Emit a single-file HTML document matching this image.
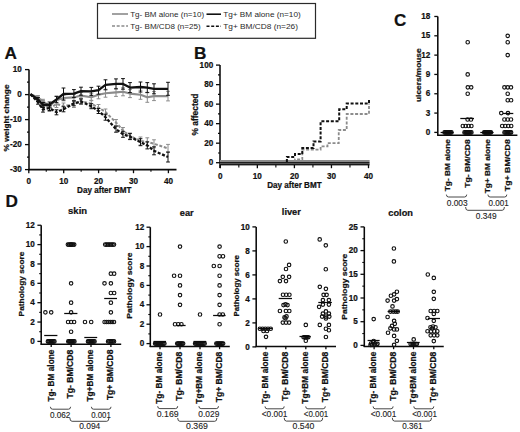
<!DOCTYPE html>
<html><head><meta charset="utf-8"><style>
html,body{margin:0;padding:0;background:#fff;}
svg{display:block;font-family:"Liberation Sans", sans-serif;}
</style></head><body>
<svg width="520" height="432" viewBox="0 0 520 432">
<rect width="520" height="432" fill="#fff"/>
<rect x="97.5" y="3.5" width="218" height="34.8" fill="none" stroke="#2a2a2a" stroke-width="1.2"/>
<line x1="112" y1="14.0" x2="128" y2="14.0" stroke="#8a8a8a" stroke-width="1.6"/>
<path d="M112 26 H128" stroke="#8a8a8a" stroke-width="1.4" fill="none" stroke-dasharray="3 1.7"/>
<line x1="206.5" y1="14.2" x2="221" y2="14.2" stroke="#111" stroke-width="1.6"/>
<path d="M206.5 26.3 H221" stroke="#111" stroke-width="1.5" fill="none" stroke-dasharray="3 1.7"/>
<text x="130.2" y="16.8" font-size="8.1" font-weight="normal" text-anchor="start" fill="#2a2a2a" textLength="74" lengthAdjust="spacingAndGlyphs">Tg- BM alone (n=10)</text>
<text x="130.2" y="28.9" font-size="8.1" font-weight="normal" text-anchor="start" fill="#2a2a2a" textLength="70.5" lengthAdjust="spacingAndGlyphs">Tg- BM/CD8 (n=25)</text>
<text x="223.2" y="16.8" font-size="8.1" font-weight="normal" text-anchor="start" fill="#2a2a2a" textLength="77.5" lengthAdjust="spacingAndGlyphs">Tg+ BM alone (n=10)</text>
<text x="223.2" y="28.9" font-size="8.1" font-weight="normal" text-anchor="start" fill="#2a2a2a" textLength="74.8" lengthAdjust="spacingAndGlyphs">Tg+ BM/CD8 (n=26)</text>
<text x="4.6" y="58.5" font-size="17.2" font-weight="bold" text-anchor="start" fill="#111" stroke="#111" stroke-width="0.22">A</text>
<text x="194.0" y="58.8" font-size="17.2" font-weight="bold" text-anchor="start" fill="#111" stroke="#111" stroke-width="0.22">B</text>
<text x="394.0" y="26.1" font-size="17.0" font-weight="bold" text-anchor="start" fill="#111" stroke="#111" stroke-width="0.22">C</text>
<text x="5.6" y="207.2" font-size="17.2" font-weight="bold" text-anchor="start" fill="#111" stroke="#111" stroke-width="0.22">D</text>
<line x1="29" y1="69.6" x2="29" y2="170.2" stroke="#0a0a0a" stroke-width="1.55"/>
<line x1="25" y1="69.6" x2="29" y2="69.6" stroke="#0a0a0a" stroke-width="1.3"/>
<text transform="translate(21.8,72.19999999999999) scale(0.97,1)" x="0" y="0" font-size="8.4" font-weight="bold" text-anchor="end" fill="#111" stroke="#111" stroke-width="0.22">10</text>
<line x1="25" y1="94.6" x2="29" y2="94.6" stroke="#0a0a0a" stroke-width="1.3"/>
<text transform="translate(21.8,97.19999999999999) scale(0.97,1)" x="0" y="0" font-size="8.4" font-weight="bold" text-anchor="end" fill="#111" stroke="#111" stroke-width="0.22">0</text>
<line x1="25" y1="119.6" x2="29" y2="119.6" stroke="#0a0a0a" stroke-width="1.3"/>
<text transform="translate(21.8,122.19999999999999) scale(0.97,1)" x="0" y="0" font-size="8.4" font-weight="bold" text-anchor="end" fill="#111" stroke="#111" stroke-width="0.22">-10</text>
<line x1="25" y1="144.6" x2="29" y2="144.6" stroke="#0a0a0a" stroke-width="1.3"/>
<text transform="translate(21.8,147.2) scale(0.97,1)" x="0" y="0" font-size="8.4" font-weight="bold" text-anchor="end" fill="#111" stroke="#111" stroke-width="0.22">-20</text>
<line x1="25" y1="169.6" x2="29" y2="169.6" stroke="#0a0a0a" stroke-width="1.3"/>
<text transform="translate(21.8,172.2) scale(0.97,1)" x="0" y="0" font-size="8.4" font-weight="bold" text-anchor="end" fill="#111" stroke="#111" stroke-width="0.22">-30</text>
<line x1="27" y1="82.1" x2="29" y2="82.1" stroke="#0a0a0a" stroke-width="1.1"/>
<line x1="27" y1="107.1" x2="29" y2="107.1" stroke="#0a0a0a" stroke-width="1.1"/>
<line x1="27" y1="132.1" x2="29" y2="132.1" stroke="#0a0a0a" stroke-width="1.1"/>
<line x1="27" y1="157.1" x2="29" y2="157.1" stroke="#0a0a0a" stroke-width="1.1"/>
<line x1="28.4" y1="169.6" x2="176.5" y2="169.6" stroke="#0a0a0a" stroke-width="1.55"/>
<line x1="28.8" y1="169.6" x2="28.8" y2="173.2" stroke="#0a0a0a" stroke-width="1.3"/>
<text transform="translate(28.8,183.8) scale(0.97,1)" x="0" y="0" font-size="8.4" font-weight="bold" text-anchor="middle" fill="#111" stroke="#111" stroke-width="0.22">0</text>
<line x1="63.7" y1="169.6" x2="63.7" y2="173.2" stroke="#0a0a0a" stroke-width="1.3"/>
<text transform="translate(63.7,183.8) scale(0.97,1)" x="0" y="0" font-size="8.4" font-weight="bold" text-anchor="middle" fill="#111" stroke="#111" stroke-width="0.22">10</text>
<line x1="98.60000000000001" y1="169.6" x2="98.60000000000001" y2="173.2" stroke="#0a0a0a" stroke-width="1.3"/>
<text transform="translate(98.60000000000001,183.8) scale(0.97,1)" x="0" y="0" font-size="8.4" font-weight="bold" text-anchor="middle" fill="#111" stroke="#111" stroke-width="0.22">20</text>
<line x1="133.5" y1="169.6" x2="133.5" y2="173.2" stroke="#0a0a0a" stroke-width="1.3"/>
<text transform="translate(133.5,183.8) scale(0.97,1)" x="0" y="0" font-size="8.4" font-weight="bold" text-anchor="middle" fill="#111" stroke="#111" stroke-width="0.22">30</text>
<line x1="168.40000000000003" y1="169.6" x2="168.40000000000003" y2="173.2" stroke="#0a0a0a" stroke-width="1.3"/>
<text transform="translate(168.40000000000003,183.8) scale(0.97,1)" x="0" y="0" font-size="8.4" font-weight="bold" text-anchor="middle" fill="#111" stroke="#111" stroke-width="0.22">40</text>
<line x1="46.25" y1="169.6" x2="46.25" y2="171.8" stroke="#0a0a0a" stroke-width="1.1"/>
<line x1="81.15" y1="169.6" x2="81.15" y2="171.8" stroke="#0a0a0a" stroke-width="1.1"/>
<line x1="116.05" y1="169.6" x2="116.05" y2="171.8" stroke="#0a0a0a" stroke-width="1.1"/>
<line x1="150.95000000000002" y1="169.6" x2="150.95000000000002" y2="171.8" stroke="#0a0a0a" stroke-width="1.1"/>
<text x="104.3" y="193.2" font-size="8.4" font-weight="bold" text-anchor="middle" fill="#111" textLength="54.5" lengthAdjust="spacingAndGlyphs" stroke="#111" stroke-width="0.22">Day after BMT</text>
<text transform="translate(8.9,118.0) rotate(-90)" x="0" y="0" font-size="8.0" font-weight="bold" text-anchor="middle" fill="#111" textLength="67.0" lengthAdjust="spacingAndGlyphs" stroke="#111" stroke-width="0.22">% weight change</text>
<line x1="38" y1="95.5" x2="38" y2="99.5" stroke="#8c8c8c" stroke-width="1.0"/>
<line x1="36.1" y1="95.5" x2="39.9" y2="95.5" stroke="#8c8c8c" stroke-width="1.0"/>
<line x1="36.1" y1="99.5" x2="39.9" y2="99.5" stroke="#8c8c8c" stroke-width="1.0"/>
<line x1="43" y1="99.3" x2="43" y2="103.3" stroke="#8c8c8c" stroke-width="1.0"/>
<line x1="41.1" y1="99.3" x2="44.9" y2="99.3" stroke="#8c8c8c" stroke-width="1.0"/>
<line x1="41.1" y1="103.3" x2="44.9" y2="103.3" stroke="#8c8c8c" stroke-width="1.0"/>
<line x1="49.5" y1="104" x2="49.5" y2="108" stroke="#8c8c8c" stroke-width="1.0"/>
<line x1="47.6" y1="104" x2="51.4" y2="104" stroke="#8c8c8c" stroke-width="1.0"/>
<line x1="47.6" y1="108" x2="51.4" y2="108" stroke="#8c8c8c" stroke-width="1.0"/>
<line x1="56.5" y1="96.1" x2="56.5" y2="103.9" stroke="#8c8c8c" stroke-width="1.0"/>
<line x1="54.6" y1="96.1" x2="58.4" y2="96.1" stroke="#8c8c8c" stroke-width="1.0"/>
<line x1="54.6" y1="103.9" x2="58.4" y2="103.9" stroke="#8c8c8c" stroke-width="1.0"/>
<line x1="63.5" y1="95.2" x2="63.5" y2="100.8" stroke="#8c8c8c" stroke-width="1.0"/>
<line x1="61.6" y1="95.2" x2="65.4" y2="95.2" stroke="#8c8c8c" stroke-width="1.0"/>
<line x1="61.6" y1="100.8" x2="65.4" y2="100.8" stroke="#8c8c8c" stroke-width="1.0"/>
<line x1="73.9" y1="94.4" x2="73.9" y2="100.4" stroke="#8c8c8c" stroke-width="1.0"/>
<line x1="72.0" y1="94.4" x2="75.80000000000001" y2="94.4" stroke="#8c8c8c" stroke-width="1.0"/>
<line x1="72.0" y1="100.4" x2="75.80000000000001" y2="100.4" stroke="#8c8c8c" stroke-width="1.0"/>
<line x1="81" y1="92.6" x2="81" y2="98.6" stroke="#8c8c8c" stroke-width="1.0"/>
<line x1="79.1" y1="92.6" x2="82.9" y2="92.6" stroke="#8c8c8c" stroke-width="1.0"/>
<line x1="79.1" y1="98.6" x2="82.9" y2="98.6" stroke="#8c8c8c" stroke-width="1.0"/>
<line x1="91.3" y1="93.7" x2="91.3" y2="100.7" stroke="#8c8c8c" stroke-width="1.0"/>
<line x1="89.39999999999999" y1="93.7" x2="93.2" y2="93.7" stroke="#8c8c8c" stroke-width="1.0"/>
<line x1="89.39999999999999" y1="100.7" x2="93.2" y2="100.7" stroke="#8c8c8c" stroke-width="1.0"/>
<line x1="98.5" y1="90.8" x2="98.5" y2="98.8" stroke="#8c8c8c" stroke-width="1.0"/>
<line x1="96.6" y1="90.8" x2="100.4" y2="90.8" stroke="#8c8c8c" stroke-width="1.0"/>
<line x1="96.6" y1="98.8" x2="100.4" y2="98.8" stroke="#8c8c8c" stroke-width="1.0"/>
<line x1="105.5" y1="89.2" x2="105.5" y2="97.2" stroke="#8c8c8c" stroke-width="1.0"/>
<line x1="103.6" y1="89.2" x2="107.4" y2="89.2" stroke="#8c8c8c" stroke-width="1.0"/>
<line x1="103.6" y1="97.2" x2="107.4" y2="97.2" stroke="#8c8c8c" stroke-width="1.0"/>
<line x1="116" y1="88.4" x2="116" y2="96.4" stroke="#8c8c8c" stroke-width="1.0"/>
<line x1="114.1" y1="88.4" x2="117.9" y2="88.4" stroke="#8c8c8c" stroke-width="1.0"/>
<line x1="114.1" y1="96.4" x2="117.9" y2="96.4" stroke="#8c8c8c" stroke-width="1.0"/>
<line x1="123" y1="87.8" x2="123" y2="95.8" stroke="#8c8c8c" stroke-width="1.0"/>
<line x1="121.1" y1="87.8" x2="124.9" y2="87.8" stroke="#8c8c8c" stroke-width="1.0"/>
<line x1="121.1" y1="95.8" x2="124.9" y2="95.8" stroke="#8c8c8c" stroke-width="1.0"/>
<line x1="130" y1="89.6" x2="130" y2="97.6" stroke="#8c8c8c" stroke-width="1.0"/>
<line x1="128.1" y1="89.6" x2="131.9" y2="89.6" stroke="#8c8c8c" stroke-width="1.0"/>
<line x1="128.1" y1="97.6" x2="131.9" y2="97.6" stroke="#8c8c8c" stroke-width="1.0"/>
<line x1="140.5" y1="90.3" x2="140.5" y2="99.3" stroke="#8c8c8c" stroke-width="1.0"/>
<line x1="138.6" y1="90.3" x2="142.4" y2="90.3" stroke="#8c8c8c" stroke-width="1.0"/>
<line x1="138.6" y1="99.3" x2="142.4" y2="99.3" stroke="#8c8c8c" stroke-width="1.0"/>
<line x1="147.3" y1="92.3" x2="147.3" y2="102.3" stroke="#8c8c8c" stroke-width="1.0"/>
<line x1="145.4" y1="92.3" x2="149.20000000000002" y2="92.3" stroke="#8c8c8c" stroke-width="1.0"/>
<line x1="145.4" y1="102.3" x2="149.20000000000002" y2="102.3" stroke="#8c8c8c" stroke-width="1.0"/>
<line x1="154" y1="91.6" x2="154" y2="100.6" stroke="#8c8c8c" stroke-width="1.0"/>
<line x1="152.1" y1="91.6" x2="155.9" y2="91.6" stroke="#8c8c8c" stroke-width="1.0"/>
<line x1="152.1" y1="100.6" x2="155.9" y2="100.6" stroke="#8c8c8c" stroke-width="1.0"/>
<line x1="168" y1="91.3" x2="168" y2="100.89999999999999" stroke="#8c8c8c" stroke-width="1.0"/>
<line x1="166.1" y1="91.3" x2="169.9" y2="91.3" stroke="#8c8c8c" stroke-width="1.0"/>
<line x1="166.1" y1="100.89999999999999" x2="169.9" y2="100.89999999999999" stroke="#8c8c8c" stroke-width="1.0"/>
<line x1="38" y1="97" x2="38" y2="101" stroke="#8c8c8c" stroke-width="1.0"/>
<line x1="36.1" y1="97" x2="39.9" y2="97" stroke="#8c8c8c" stroke-width="1.0"/>
<line x1="36.1" y1="101" x2="39.9" y2="101" stroke="#8c8c8c" stroke-width="1.0"/>
<line x1="43" y1="100.5" x2="43" y2="105.5" stroke="#8c8c8c" stroke-width="1.0"/>
<line x1="41.1" y1="100.5" x2="44.9" y2="100.5" stroke="#8c8c8c" stroke-width="1.0"/>
<line x1="41.1" y1="105.5" x2="44.9" y2="105.5" stroke="#8c8c8c" stroke-width="1.0"/>
<line x1="49.5" y1="105.5" x2="49.5" y2="111.5" stroke="#8c8c8c" stroke-width="1.0"/>
<line x1="47.6" y1="105.5" x2="51.4" y2="105.5" stroke="#8c8c8c" stroke-width="1.0"/>
<line x1="47.6" y1="111.5" x2="51.4" y2="111.5" stroke="#8c8c8c" stroke-width="1.0"/>
<line x1="56.5" y1="100.5" x2="56.5" y2="107.5" stroke="#8c8c8c" stroke-width="1.0"/>
<line x1="54.6" y1="100.5" x2="58.4" y2="100.5" stroke="#8c8c8c" stroke-width="1.0"/>
<line x1="54.6" y1="107.5" x2="58.4" y2="107.5" stroke="#8c8c8c" stroke-width="1.0"/>
<line x1="63.5" y1="103" x2="63.5" y2="109" stroke="#8c8c8c" stroke-width="1.0"/>
<line x1="61.6" y1="103" x2="65.4" y2="103" stroke="#8c8c8c" stroke-width="1.0"/>
<line x1="61.6" y1="109" x2="65.4" y2="109" stroke="#8c8c8c" stroke-width="1.0"/>
<line x1="73.9" y1="101.5" x2="73.9" y2="107.5" stroke="#8c8c8c" stroke-width="1.0"/>
<line x1="72.0" y1="101.5" x2="75.80000000000001" y2="101.5" stroke="#8c8c8c" stroke-width="1.0"/>
<line x1="72.0" y1="107.5" x2="75.80000000000001" y2="107.5" stroke="#8c8c8c" stroke-width="1.0"/>
<line x1="81" y1="98" x2="81" y2="104" stroke="#8c8c8c" stroke-width="1.0"/>
<line x1="79.1" y1="98" x2="82.9" y2="98" stroke="#8c8c8c" stroke-width="1.0"/>
<line x1="79.1" y1="104" x2="82.9" y2="104" stroke="#8c8c8c" stroke-width="1.0"/>
<line x1="91.3" y1="100.3" x2="91.3" y2="107.3" stroke="#8c8c8c" stroke-width="1.0"/>
<line x1="89.39999999999999" y1="100.3" x2="93.2" y2="100.3" stroke="#8c8c8c" stroke-width="1.0"/>
<line x1="89.39999999999999" y1="107.3" x2="93.2" y2="107.3" stroke="#8c8c8c" stroke-width="1.0"/>
<line x1="98.5" y1="104.5" x2="98.5" y2="110.5" stroke="#8c8c8c" stroke-width="1.0"/>
<line x1="96.6" y1="104.5" x2="100.4" y2="104.5" stroke="#8c8c8c" stroke-width="1.0"/>
<line x1="96.6" y1="110.5" x2="100.4" y2="110.5" stroke="#8c8c8c" stroke-width="1.0"/>
<line x1="105.5" y1="109" x2="105.5" y2="115" stroke="#8c8c8c" stroke-width="1.0"/>
<line x1="103.6" y1="109" x2="107.4" y2="109" stroke="#8c8c8c" stroke-width="1.0"/>
<line x1="103.6" y1="115" x2="107.4" y2="115" stroke="#8c8c8c" stroke-width="1.0"/>
<line x1="116" y1="119.5" x2="116" y2="125.5" stroke="#8c8c8c" stroke-width="1.0"/>
<line x1="114.1" y1="119.5" x2="117.9" y2="119.5" stroke="#8c8c8c" stroke-width="1.0"/>
<line x1="114.1" y1="125.5" x2="117.9" y2="125.5" stroke="#8c8c8c" stroke-width="1.0"/>
<line x1="123" y1="127.5" x2="123" y2="133.5" stroke="#8c8c8c" stroke-width="1.0"/>
<line x1="121.1" y1="127.5" x2="124.9" y2="127.5" stroke="#8c8c8c" stroke-width="1.0"/>
<line x1="121.1" y1="133.5" x2="124.9" y2="133.5" stroke="#8c8c8c" stroke-width="1.0"/>
<line x1="130" y1="133" x2="130" y2="139" stroke="#8c8c8c" stroke-width="1.0"/>
<line x1="128.1" y1="133" x2="131.9" y2="133" stroke="#8c8c8c" stroke-width="1.0"/>
<line x1="128.1" y1="139" x2="131.9" y2="139" stroke="#8c8c8c" stroke-width="1.0"/>
<line x1="140.5" y1="137" x2="140.5" y2="145" stroke="#8c8c8c" stroke-width="1.0"/>
<line x1="138.6" y1="137" x2="142.4" y2="137" stroke="#8c8c8c" stroke-width="1.0"/>
<line x1="138.6" y1="145" x2="142.4" y2="145" stroke="#8c8c8c" stroke-width="1.0"/>
<line x1="147.3" y1="137.8" x2="147.3" y2="145.8" stroke="#8c8c8c" stroke-width="1.0"/>
<line x1="145.4" y1="137.8" x2="149.20000000000002" y2="137.8" stroke="#8c8c8c" stroke-width="1.0"/>
<line x1="145.4" y1="145.8" x2="149.20000000000002" y2="145.8" stroke="#8c8c8c" stroke-width="1.0"/>
<line x1="154" y1="139.8" x2="154" y2="147.8" stroke="#8c8c8c" stroke-width="1.0"/>
<line x1="152.1" y1="139.8" x2="155.9" y2="139.8" stroke="#8c8c8c" stroke-width="1.0"/>
<line x1="152.1" y1="147.8" x2="155.9" y2="147.8" stroke="#8c8c8c" stroke-width="1.0"/>
<line x1="168" y1="144.4" x2="168" y2="152.4" stroke="#8c8c8c" stroke-width="1.0"/>
<line x1="166.1" y1="144.4" x2="169.9" y2="144.4" stroke="#8c8c8c" stroke-width="1.0"/>
<line x1="166.1" y1="152.4" x2="169.9" y2="152.4" stroke="#8c8c8c" stroke-width="1.0"/>
<path d="M30.5 94.2 L38 97.5 L43 101.3 L49.5 106 L56.5 100 L63.5 98 L73.9 97.4 L81 95.6 L91.3 97.2 L98.5 94.8 L105.5 93.2 L116 92.4 L123 91.8 L130 93.6 L140.5 94.8 L147.3 97.3 L154 96.1 L168 96.1" stroke="#8c8c8c" stroke-width="2.1" fill="none" stroke-linejoin="round"/>
<path d="M30.5 94.2 L38 99 L43 103 L49.5 108.5 L56.5 104 L63.5 106 L73.9 104.5 L81 101 L91.3 103.8 L98.5 107.5 L105.5 112 L116 122.5 L123 130.5 L130 136 L140.5 141 L147.3 141.8 L154 143.8 L168 148.4" stroke="#8c8c8c" stroke-width="2.0" fill="none" stroke-dasharray="3 1.7" stroke-linejoin="round"/>
<line x1="38" y1="97.5" x2="38" y2="101.5" stroke="#111" stroke-width="1.0"/>
<line x1="36.1" y1="97.5" x2="39.9" y2="97.5" stroke="#111" stroke-width="1.0"/>
<line x1="36.1" y1="101.5" x2="39.9" y2="101.5" stroke="#111" stroke-width="1.0"/>
<line x1="43" y1="102.5" x2="43" y2="107.5" stroke="#111" stroke-width="1.0"/>
<line x1="41.1" y1="102.5" x2="44.9" y2="102.5" stroke="#111" stroke-width="1.0"/>
<line x1="41.1" y1="107.5" x2="44.9" y2="107.5" stroke="#111" stroke-width="1.0"/>
<line x1="49.5" y1="102.0" x2="49.5" y2="107.0" stroke="#111" stroke-width="1.0"/>
<line x1="47.6" y1="102.0" x2="51.4" y2="102.0" stroke="#111" stroke-width="1.0"/>
<line x1="47.6" y1="107.0" x2="51.4" y2="107.0" stroke="#111" stroke-width="1.0"/>
<line x1="56.5" y1="96.4" x2="56.5" y2="102.4" stroke="#111" stroke-width="1.0"/>
<line x1="54.6" y1="96.4" x2="58.4" y2="96.4" stroke="#111" stroke-width="1.0"/>
<line x1="54.6" y1="102.4" x2="58.4" y2="102.4" stroke="#111" stroke-width="1.0"/>
<line x1="63.5" y1="88.0" x2="63.5" y2="100.0" stroke="#111" stroke-width="1.0"/>
<line x1="61.6" y1="88.0" x2="65.4" y2="88.0" stroke="#111" stroke-width="1.0"/>
<line x1="61.6" y1="100.0" x2="65.4" y2="100.0" stroke="#111" stroke-width="1.0"/>
<line x1="73.9" y1="89.6" x2="73.9" y2="97.6" stroke="#111" stroke-width="1.0"/>
<line x1="72.0" y1="89.6" x2="75.80000000000001" y2="89.6" stroke="#111" stroke-width="1.0"/>
<line x1="72.0" y1="97.6" x2="75.80000000000001" y2="97.6" stroke="#111" stroke-width="1.0"/>
<line x1="81" y1="87.2" x2="81" y2="95.2" stroke="#111" stroke-width="1.0"/>
<line x1="79.1" y1="87.2" x2="82.9" y2="87.2" stroke="#111" stroke-width="1.0"/>
<line x1="79.1" y1="95.2" x2="82.9" y2="95.2" stroke="#111" stroke-width="1.0"/>
<line x1="91.3" y1="87.4" x2="91.3" y2="95.4" stroke="#111" stroke-width="1.0"/>
<line x1="89.39999999999999" y1="87.4" x2="93.2" y2="87.4" stroke="#111" stroke-width="1.0"/>
<line x1="89.39999999999999" y1="95.4" x2="93.2" y2="95.4" stroke="#111" stroke-width="1.0"/>
<line x1="98.5" y1="86.2" x2="98.5" y2="94.2" stroke="#111" stroke-width="1.0"/>
<line x1="96.6" y1="86.2" x2="100.4" y2="86.2" stroke="#111" stroke-width="1.0"/>
<line x1="96.6" y1="94.2" x2="100.4" y2="94.2" stroke="#111" stroke-width="1.0"/>
<line x1="105.5" y1="79.8" x2="105.5" y2="89.8" stroke="#111" stroke-width="1.0"/>
<line x1="103.6" y1="79.8" x2="107.4" y2="79.8" stroke="#111" stroke-width="1.0"/>
<line x1="103.6" y1="89.8" x2="107.4" y2="89.8" stroke="#111" stroke-width="1.0"/>
<line x1="116" y1="78.9" x2="116" y2="88.9" stroke="#111" stroke-width="1.0"/>
<line x1="114.1" y1="78.9" x2="117.9" y2="78.9" stroke="#111" stroke-width="1.0"/>
<line x1="114.1" y1="88.9" x2="117.9" y2="88.9" stroke="#111" stroke-width="1.0"/>
<line x1="123" y1="78.60000000000001" x2="123" y2="89.2" stroke="#111" stroke-width="1.0"/>
<line x1="121.1" y1="78.60000000000001" x2="124.9" y2="78.60000000000001" stroke="#111" stroke-width="1.0"/>
<line x1="121.1" y1="89.2" x2="124.9" y2="89.2" stroke="#111" stroke-width="1.0"/>
<line x1="130" y1="82.6" x2="130" y2="92.6" stroke="#111" stroke-width="1.0"/>
<line x1="128.1" y1="82.6" x2="131.9" y2="82.6" stroke="#111" stroke-width="1.0"/>
<line x1="128.1" y1="92.6" x2="131.9" y2="92.6" stroke="#111" stroke-width="1.0"/>
<line x1="140.5" y1="82" x2="140.5" y2="92" stroke="#111" stroke-width="1.0"/>
<line x1="138.6" y1="82" x2="142.4" y2="82" stroke="#111" stroke-width="1.0"/>
<line x1="138.6" y1="92" x2="142.4" y2="92" stroke="#111" stroke-width="1.0"/>
<line x1="147.3" y1="82.6" x2="147.3" y2="92.6" stroke="#111" stroke-width="1.0"/>
<line x1="145.4" y1="82.6" x2="149.20000000000002" y2="82.6" stroke="#111" stroke-width="1.0"/>
<line x1="145.4" y1="92.6" x2="149.20000000000002" y2="92.6" stroke="#111" stroke-width="1.0"/>
<line x1="154" y1="83.8" x2="154" y2="93.8" stroke="#111" stroke-width="1.0"/>
<line x1="152.1" y1="83.8" x2="155.9" y2="83.8" stroke="#111" stroke-width="1.0"/>
<line x1="152.1" y1="93.8" x2="155.9" y2="93.8" stroke="#111" stroke-width="1.0"/>
<line x1="168" y1="82.3" x2="168" y2="95.3" stroke="#111" stroke-width="1.0"/>
<line x1="166.1" y1="82.3" x2="169.9" y2="82.3" stroke="#111" stroke-width="1.0"/>
<line x1="166.1" y1="95.3" x2="169.9" y2="95.3" stroke="#111" stroke-width="1.0"/>
<line x1="38" y1="100.2" x2="38" y2="104.2" stroke="#111" stroke-width="1.0"/>
<line x1="36.1" y1="100.2" x2="39.9" y2="100.2" stroke="#111" stroke-width="1.0"/>
<line x1="36.1" y1="104.2" x2="39.9" y2="104.2" stroke="#111" stroke-width="1.0"/>
<line x1="43" y1="106.9" x2="43" y2="112.1" stroke="#111" stroke-width="1.0"/>
<line x1="41.1" y1="106.9" x2="44.9" y2="106.9" stroke="#111" stroke-width="1.0"/>
<line x1="41.1" y1="112.1" x2="44.9" y2="112.1" stroke="#111" stroke-width="1.0"/>
<line x1="49.5" y1="105.5" x2="49.5" y2="110.5" stroke="#111" stroke-width="1.0"/>
<line x1="47.6" y1="105.5" x2="51.4" y2="105.5" stroke="#111" stroke-width="1.0"/>
<line x1="47.6" y1="110.5" x2="51.4" y2="110.5" stroke="#111" stroke-width="1.0"/>
<line x1="56.5" y1="109.8" x2="56.5" y2="114.8" stroke="#111" stroke-width="1.0"/>
<line x1="54.6" y1="109.8" x2="58.4" y2="109.8" stroke="#111" stroke-width="1.0"/>
<line x1="54.6" y1="114.8" x2="58.4" y2="114.8" stroke="#111" stroke-width="1.0"/>
<line x1="63.5" y1="106.8" x2="63.5" y2="111.8" stroke="#111" stroke-width="1.0"/>
<line x1="61.6" y1="106.8" x2="65.4" y2="106.8" stroke="#111" stroke-width="1.0"/>
<line x1="61.6" y1="111.8" x2="65.4" y2="111.8" stroke="#111" stroke-width="1.0"/>
<line x1="73.9" y1="100.8" x2="73.9" y2="105.8" stroke="#111" stroke-width="1.0"/>
<line x1="72.0" y1="100.8" x2="75.80000000000001" y2="100.8" stroke="#111" stroke-width="1.0"/>
<line x1="72.0" y1="105.8" x2="75.80000000000001" y2="105.8" stroke="#111" stroke-width="1.0"/>
<line x1="81" y1="99.0" x2="81" y2="104.0" stroke="#111" stroke-width="1.0"/>
<line x1="79.1" y1="99.0" x2="82.9" y2="99.0" stroke="#111" stroke-width="1.0"/>
<line x1="79.1" y1="104.0" x2="82.9" y2="104.0" stroke="#111" stroke-width="1.0"/>
<line x1="91.3" y1="103.7" x2="91.3" y2="108.7" stroke="#111" stroke-width="1.0"/>
<line x1="89.39999999999999" y1="103.7" x2="93.2" y2="103.7" stroke="#111" stroke-width="1.0"/>
<line x1="89.39999999999999" y1="108.7" x2="93.2" y2="108.7" stroke="#111" stroke-width="1.0"/>
<line x1="98.5" y1="108.5" x2="98.5" y2="113.5" stroke="#111" stroke-width="1.0"/>
<line x1="96.6" y1="108.5" x2="100.4" y2="108.5" stroke="#111" stroke-width="1.0"/>
<line x1="96.6" y1="113.5" x2="100.4" y2="113.5" stroke="#111" stroke-width="1.0"/>
<line x1="105.5" y1="114.2" x2="105.5" y2="120.2" stroke="#111" stroke-width="1.0"/>
<line x1="103.6" y1="114.2" x2="107.4" y2="114.2" stroke="#111" stroke-width="1.0"/>
<line x1="103.6" y1="120.2" x2="107.4" y2="120.2" stroke="#111" stroke-width="1.0"/>
<line x1="116" y1="126.19999999999999" x2="116" y2="132.2" stroke="#111" stroke-width="1.0"/>
<line x1="114.1" y1="126.19999999999999" x2="117.9" y2="126.19999999999999" stroke="#111" stroke-width="1.0"/>
<line x1="114.1" y1="132.2" x2="117.9" y2="132.2" stroke="#111" stroke-width="1.0"/>
<line x1="123" y1="131.3" x2="123" y2="137.3" stroke="#111" stroke-width="1.0"/>
<line x1="121.1" y1="131.3" x2="124.9" y2="131.3" stroke="#111" stroke-width="1.0"/>
<line x1="121.1" y1="137.3" x2="124.9" y2="137.3" stroke="#111" stroke-width="1.0"/>
<line x1="130" y1="133.6" x2="130" y2="139.6" stroke="#111" stroke-width="1.0"/>
<line x1="128.1" y1="133.6" x2="131.9" y2="133.6" stroke="#111" stroke-width="1.0"/>
<line x1="128.1" y1="139.6" x2="131.9" y2="139.6" stroke="#111" stroke-width="1.0"/>
<line x1="140.5" y1="138.7" x2="140.5" y2="145.7" stroke="#111" stroke-width="1.0"/>
<line x1="138.6" y1="138.7" x2="142.4" y2="138.7" stroke="#111" stroke-width="1.0"/>
<line x1="138.6" y1="145.7" x2="142.4" y2="145.7" stroke="#111" stroke-width="1.0"/>
<line x1="147.3" y1="141.9" x2="147.3" y2="148.9" stroke="#111" stroke-width="1.0"/>
<line x1="145.4" y1="141.9" x2="149.20000000000002" y2="141.9" stroke="#111" stroke-width="1.0"/>
<line x1="145.4" y1="148.9" x2="149.20000000000002" y2="148.9" stroke="#111" stroke-width="1.0"/>
<line x1="154" y1="146.8" x2="154" y2="154.8" stroke="#111" stroke-width="1.0"/>
<line x1="152.1" y1="146.8" x2="155.9" y2="146.8" stroke="#111" stroke-width="1.0"/>
<line x1="152.1" y1="154.8" x2="155.9" y2="154.8" stroke="#111" stroke-width="1.0"/>
<line x1="168" y1="152" x2="168" y2="162" stroke="#111" stroke-width="1.0"/>
<line x1="166.1" y1="152" x2="169.9" y2="152" stroke="#111" stroke-width="1.0"/>
<line x1="166.1" y1="162" x2="169.9" y2="162" stroke="#111" stroke-width="1.0"/>
<path d="M30.5 94.2 L38 99.5 L43 105 L49.5 104.5 L56.5 99.4 L63.5 94.0 L73.9 93.6 L81 91.2 L91.3 91.4 L98.5 90.2 L105.5 84.8 L116 83.9 L123 83.9 L130 87.6 L140.5 87 L147.3 87.6 L154 88.8 L168 88.8" stroke="#111" stroke-width="2.3" fill="none" stroke-linejoin="round"/>
<path d="M30.5 94.2 L38 102.2 L43 109.5 L49.5 108 L56.5 112.3 L63.5 109.3 L73.9 103.3 L81 101.5 L91.3 106.2 L98.5 111 L105.5 117.2 L116 129.2 L123 134.3 L130 136.6 L140.5 142.2 L147.3 145.4 L154 150.8 L168 157" stroke="#111" stroke-width="2.3" fill="none" stroke-dasharray="3 1.7" stroke-linejoin="round"/>
<line x1="220" y1="65" x2="220" y2="168" stroke="#0a0a0a" stroke-width="1.55"/>
<line x1="216" y1="162.7" x2="220" y2="162.7" stroke="#0a0a0a" stroke-width="1.3"/>
<text transform="translate(213.2,165.29999999999998) scale(0.97,1)" x="0" y="0" font-size="8.4" font-weight="bold" text-anchor="end" fill="#111" stroke="#111" stroke-width="0.22">0</text>
<line x1="216" y1="143.17999999999998" x2="220" y2="143.17999999999998" stroke="#0a0a0a" stroke-width="1.3"/>
<text transform="translate(213.2,145.77999999999997) scale(0.97,1)" x="0" y="0" font-size="8.4" font-weight="bold" text-anchor="end" fill="#111" stroke="#111" stroke-width="0.22">20</text>
<line x1="216" y1="123.66" x2="220" y2="123.66" stroke="#0a0a0a" stroke-width="1.3"/>
<text transform="translate(213.2,126.25999999999999) scale(0.97,1)" x="0" y="0" font-size="8.4" font-weight="bold" text-anchor="end" fill="#111" stroke="#111" stroke-width="0.22">40</text>
<line x1="216" y1="104.13999999999999" x2="220" y2="104.13999999999999" stroke="#0a0a0a" stroke-width="1.3"/>
<text transform="translate(213.2,106.73999999999998) scale(0.97,1)" x="0" y="0" font-size="8.4" font-weight="bold" text-anchor="end" fill="#111" stroke="#111" stroke-width="0.22">60</text>
<line x1="216" y1="84.61999999999999" x2="220" y2="84.61999999999999" stroke="#0a0a0a" stroke-width="1.3"/>
<text transform="translate(213.2,87.21999999999998) scale(0.97,1)" x="0" y="0" font-size="8.4" font-weight="bold" text-anchor="end" fill="#111" stroke="#111" stroke-width="0.22">80</text>
<line x1="216" y1="65.1" x2="220" y2="65.1" stroke="#0a0a0a" stroke-width="1.3"/>
<text transform="translate(213.2,67.69999999999999) scale(0.97,1)" x="0" y="0" font-size="8.4" font-weight="bold" text-anchor="end" fill="#111" stroke="#111" stroke-width="0.22">100</text>
<line x1="218" y1="152.94" x2="220" y2="152.94" stroke="#0a0a0a" stroke-width="1.1"/>
<line x1="218" y1="133.42" x2="220" y2="133.42" stroke="#0a0a0a" stroke-width="1.1"/>
<line x1="218" y1="113.89999999999999" x2="220" y2="113.89999999999999" stroke="#0a0a0a" stroke-width="1.1"/>
<line x1="218" y1="94.38" x2="220" y2="94.38" stroke="#0a0a0a" stroke-width="1.1"/>
<line x1="218" y1="74.85999999999999" x2="220" y2="74.85999999999999" stroke="#0a0a0a" stroke-width="1.1"/>
<rect x="220" y="160" width="149.6" height="2" fill="#8a8a8a"/>
<rect x="220" y="162" width="149.6" height="1" fill="#1e1e1e"/>
<rect x="220" y="163" width="149.6" height="1" fill="#555"/>
<rect x="220" y="164" width="149.6" height="1.4" fill="#1a1a1a"/>
<line x1="220.3" y1="165" x2="220.3" y2="168.2" stroke="#0a0a0a" stroke-width="1.3"/>
<text transform="translate(220.3,178.8) scale(0.97,1)" x="0" y="0" font-size="8.4" font-weight="bold" text-anchor="middle" fill="#111" stroke="#111" stroke-width="0.22">0</text>
<line x1="257.35" y1="165" x2="257.35" y2="168.2" stroke="#0a0a0a" stroke-width="1.3"/>
<text transform="translate(257.35,178.8) scale(0.97,1)" x="0" y="0" font-size="8.4" font-weight="bold" text-anchor="middle" fill="#111" stroke="#111" stroke-width="0.22">10</text>
<line x1="294.4" y1="165" x2="294.4" y2="168.2" stroke="#0a0a0a" stroke-width="1.3"/>
<text transform="translate(294.4,178.8) scale(0.97,1)" x="0" y="0" font-size="8.4" font-weight="bold" text-anchor="middle" fill="#111" stroke="#111" stroke-width="0.22">20</text>
<line x1="331.45000000000005" y1="165" x2="331.45000000000005" y2="168.2" stroke="#0a0a0a" stroke-width="1.3"/>
<text transform="translate(331.45000000000005,178.8) scale(0.97,1)" x="0" y="0" font-size="8.4" font-weight="bold" text-anchor="middle" fill="#111" stroke="#111" stroke-width="0.22">30</text>
<line x1="368.5" y1="165" x2="368.5" y2="168.2" stroke="#0a0a0a" stroke-width="1.3"/>
<text transform="translate(368.5,178.8) scale(0.97,1)" x="0" y="0" font-size="8.4" font-weight="bold" text-anchor="middle" fill="#111" stroke="#111" stroke-width="0.22">40</text>
<line x1="238.82500000000002" y1="165" x2="238.82500000000002" y2="167.4" stroke="#0a0a0a" stroke-width="1.1"/>
<line x1="275.875" y1="165" x2="275.875" y2="167.4" stroke="#0a0a0a" stroke-width="1.1"/>
<line x1="312.925" y1="165" x2="312.925" y2="167.4" stroke="#0a0a0a" stroke-width="1.1"/>
<line x1="349.975" y1="165" x2="349.975" y2="167.4" stroke="#0a0a0a" stroke-width="1.1"/>
<text x="294.4" y="187.6" font-size="8.4" font-weight="bold" text-anchor="middle" fill="#111" textLength="54.5" lengthAdjust="spacingAndGlyphs" stroke="#111" stroke-width="0.22">Day after BMT</text>
<text transform="translate(198.4,114.5) rotate(-90)" x="0" y="0" font-size="8.3" font-weight="bold" text-anchor="middle" fill="#111" textLength="42" lengthAdjust="spacingAndGlyphs" stroke="#111" stroke-width="0.22">% affected</text>
<path d="M295 162 V159.4 H302.3 V149.6 H320.6 V146.3 H327.5 V143.1 H338.75 V130 H346.7 V114 H369 V103.5" stroke="#8c8c8c" stroke-width="1.8" fill="none" stroke-dasharray="3 1.7"/>
<path d="M286.9 162 V156.9 H295 V154 H302.3 V148.1 H313.5 V141.5 H320.6 V121.3 H339.2 V109.3 H346.7 V103.5 H369 V98.9" stroke="#111" stroke-width="2.0" fill="none" stroke-dasharray="3 1.7"/>
<line x1="437.8" y1="16.4" x2="437.8" y2="135.8" stroke="#0a0a0a" stroke-width="1.55"/>
<line x1="434.3" y1="132.4" x2="437.8" y2="132.4" stroke="#0a0a0a" stroke-width="1.3"/>
<text transform="translate(430.4,135.0) scale(0.97,1)" x="0" y="0" font-size="8.4" font-weight="bold" text-anchor="end" fill="#111" stroke="#111" stroke-width="0.22">0</text>
<line x1="434.3" y1="113.08000000000001" x2="437.8" y2="113.08000000000001" stroke="#0a0a0a" stroke-width="1.3"/>
<text transform="translate(430.4,115.68) scale(0.97,1)" x="0" y="0" font-size="8.4" font-weight="bold" text-anchor="end" fill="#111" stroke="#111" stroke-width="0.22">3</text>
<line x1="434.3" y1="93.76" x2="437.8" y2="93.76" stroke="#0a0a0a" stroke-width="1.3"/>
<text transform="translate(430.4,96.36) scale(0.97,1)" x="0" y="0" font-size="8.4" font-weight="bold" text-anchor="end" fill="#111" stroke="#111" stroke-width="0.22">6</text>
<line x1="434.3" y1="74.44" x2="437.8" y2="74.44" stroke="#0a0a0a" stroke-width="1.3"/>
<text transform="translate(430.4,77.03999999999999) scale(0.97,1)" x="0" y="0" font-size="8.4" font-weight="bold" text-anchor="end" fill="#111" stroke="#111" stroke-width="0.22">9</text>
<line x1="434.3" y1="55.120000000000005" x2="437.8" y2="55.120000000000005" stroke="#0a0a0a" stroke-width="1.3"/>
<text transform="translate(430.4,57.720000000000006) scale(0.97,1)" x="0" y="0" font-size="8.4" font-weight="bold" text-anchor="end" fill="#111" stroke="#111" stroke-width="0.22">12</text>
<line x1="434.3" y1="35.8" x2="437.8" y2="35.8" stroke="#0a0a0a" stroke-width="1.3"/>
<text transform="translate(430.4,38.4) scale(0.97,1)" x="0" y="0" font-size="8.4" font-weight="bold" text-anchor="end" fill="#111" stroke="#111" stroke-width="0.22">15</text>
<line x1="434.3" y1="16.480000000000004" x2="437.8" y2="16.480000000000004" stroke="#0a0a0a" stroke-width="1.3"/>
<text transform="translate(430.4,19.080000000000005) scale(0.97,1)" x="0" y="0" font-size="8.4" font-weight="bold" text-anchor="end" fill="#111" stroke="#111" stroke-width="0.22">18</text>
<line x1="437.2" y1="135.2" x2="517.4" y2="135.2" stroke="#0a0a0a" stroke-width="1.55"/>
<text transform="translate(421.1,75.2) rotate(-90)" x="0" y="0" font-size="7.4" font-weight="bold" text-anchor="middle" fill="#111" textLength="53.5" lengthAdjust="spacingAndGlyphs" stroke="#111" stroke-width="0.22">ulcers/mouse</text>
<circle cx="444.60" cy="132.40" r="1.75" stroke="#111" stroke-width="1.15" fill="none"/>
<circle cx="445.45" cy="132.40" r="1.75" stroke="#111" stroke-width="1.15" fill="none"/>
<circle cx="446.30" cy="132.40" r="1.75" stroke="#111" stroke-width="1.15" fill="none"/>
<circle cx="447.15" cy="132.40" r="1.75" stroke="#111" stroke-width="1.15" fill="none"/>
<circle cx="448.00" cy="132.40" r="1.75" stroke="#111" stroke-width="1.15" fill="none"/>
<circle cx="448.85" cy="132.40" r="1.75" stroke="#111" stroke-width="1.15" fill="none"/>
<circle cx="449.70" cy="132.40" r="1.75" stroke="#111" stroke-width="1.15" fill="none"/>
<circle cx="450.55" cy="132.40" r="1.75" stroke="#111" stroke-width="1.15" fill="none"/>
<circle cx="451.40" cy="132.40" r="1.75" stroke="#111" stroke-width="1.15" fill="none"/>
<line x1="440.6" y1="132.5" x2="453.6" y2="132.5" stroke="#0a0a0a" stroke-width="1.25"/>
<circle cx="467.70" cy="42.24" r="1.75" stroke="#111" stroke-width="1.15" fill="none"/>
<circle cx="467.70" cy="74.44" r="1.75" stroke="#111" stroke-width="1.15" fill="none"/>
<circle cx="467.80" cy="87.32" r="1.75" stroke="#111" stroke-width="1.15" fill="none"/>
<circle cx="471.20" cy="87.32" r="1.75" stroke="#111" stroke-width="1.15" fill="none"/>
<circle cx="467.70" cy="93.76" r="1.75" stroke="#111" stroke-width="1.15" fill="none"/>
<circle cx="467.60" cy="119.52" r="1.75" stroke="#111" stroke-width="1.15" fill="none"/>
<circle cx="471.00" cy="119.52" r="1.75" stroke="#111" stroke-width="1.15" fill="none"/>
<circle cx="462.82" cy="125.96" r="1.75" stroke="#111" stroke-width="1.15" fill="none"/>
<circle cx="465.68" cy="125.96" r="1.75" stroke="#111" stroke-width="1.15" fill="none"/>
<circle cx="468.52" cy="125.96" r="1.75" stroke="#111" stroke-width="1.15" fill="none"/>
<circle cx="471.38" cy="125.96" r="1.75" stroke="#111" stroke-width="1.15" fill="none"/>
<circle cx="464.50" cy="132.40" r="1.75" stroke="#111" stroke-width="1.15" fill="none"/>
<circle cx="465.36" cy="132.40" r="1.75" stroke="#111" stroke-width="1.15" fill="none"/>
<circle cx="466.23" cy="132.40" r="1.75" stroke="#111" stroke-width="1.15" fill="none"/>
<circle cx="467.09" cy="132.40" r="1.75" stroke="#111" stroke-width="1.15" fill="none"/>
<circle cx="467.95" cy="132.40" r="1.75" stroke="#111" stroke-width="1.15" fill="none"/>
<circle cx="468.81" cy="132.40" r="1.75" stroke="#111" stroke-width="1.15" fill="none"/>
<circle cx="469.68" cy="132.40" r="1.75" stroke="#111" stroke-width="1.15" fill="none"/>
<circle cx="470.54" cy="132.40" r="1.75" stroke="#111" stroke-width="1.15" fill="none"/>
<circle cx="471.40" cy="132.40" r="1.75" stroke="#111" stroke-width="1.15" fill="none"/>
<line x1="460.3" y1="118.5" x2="474" y2="118.5" stroke="#0a0a0a" stroke-width="1.25"/>
<circle cx="484.20" cy="132.40" r="1.75" stroke="#111" stroke-width="1.15" fill="none"/>
<circle cx="485.04" cy="132.40" r="1.75" stroke="#111" stroke-width="1.15" fill="none"/>
<circle cx="485.88" cy="132.40" r="1.75" stroke="#111" stroke-width="1.15" fill="none"/>
<circle cx="486.71" cy="132.40" r="1.75" stroke="#111" stroke-width="1.15" fill="none"/>
<circle cx="487.55" cy="132.40" r="1.75" stroke="#111" stroke-width="1.15" fill="none"/>
<circle cx="488.39" cy="132.40" r="1.75" stroke="#111" stroke-width="1.15" fill="none"/>
<circle cx="489.23" cy="132.40" r="1.75" stroke="#111" stroke-width="1.15" fill="none"/>
<circle cx="490.06" cy="132.40" r="1.75" stroke="#111" stroke-width="1.15" fill="none"/>
<circle cx="490.90" cy="132.40" r="1.75" stroke="#111" stroke-width="1.15" fill="none"/>
<line x1="480.3" y1="132.5" x2="493.6" y2="132.5" stroke="#0a0a0a" stroke-width="1.25"/>
<circle cx="507.70" cy="35.80" r="1.75" stroke="#111" stroke-width="1.15" fill="none"/>
<circle cx="507.70" cy="42.24" r="1.75" stroke="#111" stroke-width="1.15" fill="none"/>
<circle cx="507.70" cy="55.12" r="1.75" stroke="#111" stroke-width="1.15" fill="none"/>
<circle cx="504.40" cy="87.32" r="1.75" stroke="#111" stroke-width="1.15" fill="none"/>
<circle cx="507.70" cy="87.32" r="1.75" stroke="#111" stroke-width="1.15" fill="none"/>
<circle cx="511.00" cy="87.32" r="1.75" stroke="#111" stroke-width="1.15" fill="none"/>
<circle cx="507.70" cy="93.76" r="1.75" stroke="#111" stroke-width="1.15" fill="none"/>
<circle cx="507.70" cy="100.20" r="1.75" stroke="#111" stroke-width="1.15" fill="none"/>
<circle cx="511.10" cy="100.20" r="1.75" stroke="#111" stroke-width="1.15" fill="none"/>
<circle cx="501.25" cy="113.08" r="1.75" stroke="#111" stroke-width="1.15" fill="none"/>
<circle cx="507.95" cy="113.08" r="1.75" stroke="#111" stroke-width="1.15" fill="none"/>
<circle cx="504.40" cy="119.52" r="1.75" stroke="#111" stroke-width="1.15" fill="none"/>
<circle cx="507.70" cy="119.52" r="1.75" stroke="#111" stroke-width="1.15" fill="none"/>
<circle cx="511.00" cy="119.52" r="1.75" stroke="#111" stroke-width="1.15" fill="none"/>
<circle cx="502.20" cy="125.96" r="1.75" stroke="#111" stroke-width="1.15" fill="none"/>
<circle cx="505.20" cy="125.96" r="1.75" stroke="#111" stroke-width="1.15" fill="none"/>
<circle cx="508.20" cy="125.96" r="1.75" stroke="#111" stroke-width="1.15" fill="none"/>
<circle cx="511.20" cy="125.96" r="1.75" stroke="#111" stroke-width="1.15" fill="none"/>
<circle cx="504.50" cy="132.40" r="1.75" stroke="#111" stroke-width="1.15" fill="none"/>
<circle cx="505.44" cy="132.40" r="1.75" stroke="#111" stroke-width="1.15" fill="none"/>
<circle cx="506.39" cy="132.40" r="1.75" stroke="#111" stroke-width="1.15" fill="none"/>
<circle cx="507.33" cy="132.40" r="1.75" stroke="#111" stroke-width="1.15" fill="none"/>
<circle cx="508.27" cy="132.40" r="1.75" stroke="#111" stroke-width="1.15" fill="none"/>
<circle cx="509.21" cy="132.40" r="1.75" stroke="#111" stroke-width="1.15" fill="none"/>
<circle cx="510.16" cy="132.40" r="1.75" stroke="#111" stroke-width="1.15" fill="none"/>
<circle cx="511.10" cy="132.40" r="1.75" stroke="#111" stroke-width="1.15" fill="none"/>
<line x1="502.9" y1="113.5" x2="513.3" y2="113.5" stroke="#0a0a0a" stroke-width="1.25"/>
<text transform="translate(450.3,139.2) rotate(-90)" x="0" y="0" font-size="8.1" font-weight="bold" text-anchor="end" fill="#111" textLength="52" lengthAdjust="spacingAndGlyphs" stroke="#111" stroke-width="0.22">Tg- BM alone</text>
<text transform="translate(470.0,139.2) rotate(-90)" x="0" y="0" font-size="8.1" font-weight="bold" text-anchor="end" fill="#111" textLength="48.5" lengthAdjust="spacingAndGlyphs" stroke="#111" stroke-width="0.22">Tg- BM/CD8</text>
<text transform="translate(490.40000000000003,139.2) rotate(-90)" x="0" y="0" font-size="8.1" font-weight="bold" text-anchor="end" fill="#111" textLength="54" lengthAdjust="spacingAndGlyphs" stroke="#111" stroke-width="0.22">Tg+ BM alone</text>
<text transform="translate(510.2,139.2) rotate(-90)" x="0" y="0" font-size="8.1" font-weight="bold" text-anchor="end" fill="#111" textLength="52" lengthAdjust="spacingAndGlyphs" stroke="#111" stroke-width="0.22">Tg+ BM/CD8</text>
<path d="M446.4 194.6 Q446.4 197 448.59999999999997 197 H464.5 Q466.7 197 466.7 194.6" stroke="#333" stroke-width="0.9" fill="none"/>
<path d="M487.9 194.6 Q487.9 197 490.09999999999997 197 H504.6 Q506.8 197 506.8 194.6" stroke="#333" stroke-width="0.9" fill="none"/>
<path d="M465.6 207.0 Q465.6 210.3 467.8 210.3 H502.2 Q504.4 210.3 504.4 207.0" stroke="#333" stroke-width="0.9" fill="none"/>
<text x="457.2" y="205.6" font-size="8.4" font-weight="normal" text-anchor="middle" fill="#1e1e1e" textLength="20.9" lengthAdjust="spacingAndGlyphs" stroke="#1e1e1e" stroke-width="0.12">0.003</text>
<text x="498.6" y="205.6" font-size="8.4" font-weight="normal" text-anchor="middle" fill="#1e1e1e" textLength="20.2" lengthAdjust="spacingAndGlyphs" stroke="#1e1e1e" stroke-width="0.12">0.001</text>
<text x="486.2" y="218.9" font-size="8.4" font-weight="normal" text-anchor="middle" fill="#1e1e1e" textLength="20.8" lengthAdjust="spacingAndGlyphs" stroke="#1e1e1e" stroke-width="0.12">0.349</text>
<line x1="41.2" y1="225.2" x2="41.2" y2="344.8" stroke="#0a0a0a" stroke-width="1.55"/>
<line x1="37.400000000000006" y1="341.4" x2="41.2" y2="341.4" stroke="#0a0a0a" stroke-width="1.3"/>
<text transform="translate(34.7,344.0) scale(0.97,1)" x="0" y="0" font-size="8.4" font-weight="bold" text-anchor="end" fill="#111" stroke="#111" stroke-width="0.22">0</text>
<line x1="37.400000000000006" y1="322.03999999999996" x2="41.2" y2="322.03999999999996" stroke="#0a0a0a" stroke-width="1.3"/>
<text transform="translate(34.7,324.64) scale(0.97,1)" x="0" y="0" font-size="8.4" font-weight="bold" text-anchor="end" fill="#111" stroke="#111" stroke-width="0.22">2</text>
<line x1="37.400000000000006" y1="302.67999999999995" x2="41.2" y2="302.67999999999995" stroke="#0a0a0a" stroke-width="1.3"/>
<text transform="translate(34.7,305.28) scale(0.97,1)" x="0" y="0" font-size="8.4" font-weight="bold" text-anchor="end" fill="#111" stroke="#111" stroke-width="0.22">4</text>
<line x1="37.400000000000006" y1="283.32" x2="41.2" y2="283.32" stroke="#0a0a0a" stroke-width="1.3"/>
<text transform="translate(34.7,285.92) scale(0.97,1)" x="0" y="0" font-size="8.4" font-weight="bold" text-anchor="end" fill="#111" stroke="#111" stroke-width="0.22">6</text>
<line x1="37.400000000000006" y1="263.96" x2="41.2" y2="263.96" stroke="#0a0a0a" stroke-width="1.3"/>
<text transform="translate(34.7,266.56) scale(0.97,1)" x="0" y="0" font-size="8.4" font-weight="bold" text-anchor="end" fill="#111" stroke="#111" stroke-width="0.22">8</text>
<line x1="37.400000000000006" y1="244.59999999999997" x2="41.2" y2="244.59999999999997" stroke="#0a0a0a" stroke-width="1.3"/>
<text transform="translate(34.7,247.19999999999996) scale(0.97,1)" x="0" y="0" font-size="8.4" font-weight="bold" text-anchor="end" fill="#111" stroke="#111" stroke-width="0.22">10</text>
<line x1="37.400000000000006" y1="225.23999999999998" x2="41.2" y2="225.23999999999998" stroke="#0a0a0a" stroke-width="1.3"/>
<text transform="translate(34.7,227.83999999999997) scale(0.97,1)" x="0" y="0" font-size="8.4" font-weight="bold" text-anchor="end" fill="#111" stroke="#111" stroke-width="0.22">12</text>
<line x1="39.2" y1="331.71999999999997" x2="41.2" y2="331.71999999999997" stroke="#0a0a0a" stroke-width="1.1"/>
<line x1="39.2" y1="312.35999999999996" x2="41.2" y2="312.35999999999996" stroke="#0a0a0a" stroke-width="1.1"/>
<line x1="39.2" y1="293.0" x2="41.2" y2="293.0" stroke="#0a0a0a" stroke-width="1.1"/>
<line x1="39.2" y1="273.64" x2="41.2" y2="273.64" stroke="#0a0a0a" stroke-width="1.1"/>
<line x1="39.2" y1="254.27999999999997" x2="41.2" y2="254.27999999999997" stroke="#0a0a0a" stroke-width="1.1"/>
<line x1="39.2" y1="234.92" x2="41.2" y2="234.92" stroke="#0a0a0a" stroke-width="1.1"/>
<line x1="40.6" y1="344.2" x2="121.2" y2="344.2" stroke="#0a0a0a" stroke-width="1.55"/>
<line x1="51.2" y1="344.2" x2="51.2" y2="347.0" stroke="#0a0a0a" stroke-width="1.3"/>
<line x1="71.1" y1="344.2" x2="71.1" y2="347.0" stroke="#0a0a0a" stroke-width="1.3"/>
<line x1="91" y1="344.2" x2="91" y2="347.0" stroke="#0a0a0a" stroke-width="1.3"/>
<line x1="110.9" y1="344.2" x2="110.9" y2="347.0" stroke="#0a0a0a" stroke-width="1.3"/>
<text x="68.1" y="213.7" font-size="9.4" font-weight="bold" text-anchor="start" fill="#111" textLength="19" lengthAdjust="spacingAndGlyphs" stroke="#111" stroke-width="0.22">skin</text>
<text transform="translate(23.8,284.0) rotate(-90)" x="0" y="0" font-size="8.0" font-weight="bold" text-anchor="middle" fill="#111" textLength="64.8" lengthAdjust="spacingAndGlyphs" stroke="#111" stroke-width="0.22">Pathology score</text>
<text transform="translate(53.5,349.6) rotate(-90)" x="0" y="0" font-size="8.3" font-weight="bold" text-anchor="end" fill="#111" textLength="52" lengthAdjust="spacingAndGlyphs" stroke="#111" stroke-width="0.22">Tg- BM alone</text>
<text transform="translate(73.39999999999999,349.6) rotate(-90)" x="0" y="0" font-size="8.3" font-weight="bold" text-anchor="end" fill="#111" textLength="49" lengthAdjust="spacingAndGlyphs" stroke="#111" stroke-width="0.22">Tg- BM/CD8</text>
<text transform="translate(93.3,349.6) rotate(-90)" x="0" y="0" font-size="8.3" font-weight="bold" text-anchor="end" fill="#111" textLength="52" lengthAdjust="spacingAndGlyphs" stroke="#111" stroke-width="0.22">Tg+BM alone</text>
<text transform="translate(113.2,349.6) rotate(-90)" x="0" y="0" font-size="8.3" font-weight="bold" text-anchor="end" fill="#111" textLength="50.5" lengthAdjust="spacingAndGlyphs" stroke="#111" stroke-width="0.22">Tg+ BM/CD8</text>
<path d="M50.4 406.8 Q50.4 409.2 52.6 409.2 H68.39999999999999 Q70.6 409.2 70.6 406.8" stroke="#333" stroke-width="0.9" fill="none"/>
<text x="60.2" y="417.6" font-size="8.4" font-weight="normal" text-anchor="middle" fill="#1e1e1e" textLength="20.5" lengthAdjust="spacingAndGlyphs" stroke="#1e1e1e" stroke-width="0.12">0.062</text>
<path d="M91.4 406.8 Q91.4 409.2 93.60000000000001 409.2 H108.8 Q111 409.2 111 406.8" stroke="#333" stroke-width="0.9" fill="none"/>
<text x="100.95" y="417.6" font-size="8.4" font-weight="normal" text-anchor="middle" fill="#1e1e1e" textLength="19.6" lengthAdjust="spacingAndGlyphs" stroke="#1e1e1e" stroke-width="0.12">0.001</text>
<path d="M69.9 418.0 Q69.9 421.3 72.10000000000001 421.3 H106.7 Q108.9 421.3 108.9 418.0" stroke="#333" stroke-width="0.9" fill="none"/>
<text x="89.75" y="429.0" font-size="8.4" font-weight="normal" text-anchor="middle" fill="#1e1e1e" textLength="21.2" lengthAdjust="spacingAndGlyphs" stroke="#1e1e1e" stroke-width="0.12">0.094</text>
<circle cx="45.40" cy="312.36" r="1.75" stroke="#111" stroke-width="1.15" fill="none"/>
<circle cx="51.20" cy="312.36" r="1.75" stroke="#111" stroke-width="1.15" fill="none"/>
<circle cx="47.90" cy="341.40" r="1.75" stroke="#111" stroke-width="1.15" fill="none"/>
<circle cx="48.83" cy="341.40" r="1.75" stroke="#111" stroke-width="1.15" fill="none"/>
<circle cx="49.76" cy="341.40" r="1.75" stroke="#111" stroke-width="1.15" fill="none"/>
<circle cx="50.69" cy="341.40" r="1.75" stroke="#111" stroke-width="1.15" fill="none"/>
<circle cx="51.61" cy="341.40" r="1.75" stroke="#111" stroke-width="1.15" fill="none"/>
<circle cx="52.54" cy="341.40" r="1.75" stroke="#111" stroke-width="1.15" fill="none"/>
<circle cx="53.47" cy="341.40" r="1.75" stroke="#111" stroke-width="1.15" fill="none"/>
<circle cx="54.40" cy="341.40" r="1.75" stroke="#111" stroke-width="1.15" fill="none"/>
<line x1="44.2" y1="335.5" x2="57.4" y2="335.5" stroke="#0a0a0a" stroke-width="1.25"/>
<circle cx="71.10" cy="244.60" r="1.75" stroke="#111" stroke-width="1.15" fill="none"/>
<circle cx="67.90" cy="244.60" r="1.75" stroke="#111" stroke-width="1.15" fill="none"/>
<circle cx="69.16" cy="244.60" r="1.75" stroke="#111" stroke-width="1.15" fill="none"/>
<circle cx="70.42" cy="244.60" r="1.75" stroke="#111" stroke-width="1.15" fill="none"/>
<circle cx="71.68" cy="244.60" r="1.75" stroke="#111" stroke-width="1.15" fill="none"/>
<circle cx="72.94" cy="244.60" r="1.75" stroke="#111" stroke-width="1.15" fill="none"/>
<circle cx="74.20" cy="244.60" r="1.75" stroke="#111" stroke-width="1.15" fill="none"/>
<circle cx="71.10" cy="283.32" r="1.75" stroke="#111" stroke-width="1.15" fill="none"/>
<circle cx="71.10" cy="302.68" r="1.75" stroke="#111" stroke-width="1.15" fill="none"/>
<circle cx="71.10" cy="312.36" r="1.75" stroke="#111" stroke-width="1.15" fill="none"/>
<circle cx="68.10" cy="322.04" r="1.75" stroke="#111" stroke-width="1.15" fill="none"/>
<circle cx="71.10" cy="322.04" r="1.75" stroke="#111" stroke-width="1.15" fill="none"/>
<circle cx="74.10" cy="322.04" r="1.75" stroke="#111" stroke-width="1.15" fill="none"/>
<circle cx="71.10" cy="331.72" r="1.75" stroke="#111" stroke-width="1.15" fill="none"/>
<circle cx="68.30" cy="341.40" r="1.75" stroke="#111" stroke-width="1.15" fill="none"/>
<circle cx="69.17" cy="341.40" r="1.75" stroke="#111" stroke-width="1.15" fill="none"/>
<circle cx="70.04" cy="341.40" r="1.75" stroke="#111" stroke-width="1.15" fill="none"/>
<circle cx="70.91" cy="341.40" r="1.75" stroke="#111" stroke-width="1.15" fill="none"/>
<circle cx="71.79" cy="341.40" r="1.75" stroke="#111" stroke-width="1.15" fill="none"/>
<circle cx="72.66" cy="341.40" r="1.75" stroke="#111" stroke-width="1.15" fill="none"/>
<circle cx="73.53" cy="341.40" r="1.75" stroke="#111" stroke-width="1.15" fill="none"/>
<circle cx="74.40" cy="341.40" r="1.75" stroke="#111" stroke-width="1.15" fill="none"/>
<line x1="64.2" y1="313.5" x2="77.4" y2="313.5" stroke="#0a0a0a" stroke-width="1.25"/>
<circle cx="85.00" cy="322.04" r="1.75" stroke="#111" stroke-width="1.15" fill="none"/>
<circle cx="91.20" cy="322.04" r="1.75" stroke="#111" stroke-width="1.15" fill="none"/>
<circle cx="88.00" cy="341.40" r="1.75" stroke="#111" stroke-width="1.15" fill="none"/>
<circle cx="88.93" cy="341.40" r="1.75" stroke="#111" stroke-width="1.15" fill="none"/>
<circle cx="89.86" cy="341.40" r="1.75" stroke="#111" stroke-width="1.15" fill="none"/>
<circle cx="90.79" cy="341.40" r="1.75" stroke="#111" stroke-width="1.15" fill="none"/>
<circle cx="91.71" cy="341.40" r="1.75" stroke="#111" stroke-width="1.15" fill="none"/>
<circle cx="92.64" cy="341.40" r="1.75" stroke="#111" stroke-width="1.15" fill="none"/>
<circle cx="93.57" cy="341.40" r="1.75" stroke="#111" stroke-width="1.15" fill="none"/>
<circle cx="94.50" cy="341.40" r="1.75" stroke="#111" stroke-width="1.15" fill="none"/>
<line x1="84.3" y1="337.5" x2="97.2" y2="337.5" stroke="#0a0a0a" stroke-width="1.25"/>
<circle cx="105.20" cy="244.60" r="1.75" stroke="#111" stroke-width="1.15" fill="none"/>
<circle cx="106.67" cy="244.60" r="1.75" stroke="#111" stroke-width="1.15" fill="none"/>
<circle cx="108.13" cy="244.60" r="1.75" stroke="#111" stroke-width="1.15" fill="none"/>
<circle cx="109.60" cy="244.60" r="1.75" stroke="#111" stroke-width="1.15" fill="none"/>
<circle cx="111.07" cy="244.60" r="1.75" stroke="#111" stroke-width="1.15" fill="none"/>
<circle cx="112.53" cy="244.60" r="1.75" stroke="#111" stroke-width="1.15" fill="none"/>
<circle cx="114.00" cy="244.60" r="1.75" stroke="#111" stroke-width="1.15" fill="none"/>
<circle cx="110.85" cy="273.64" r="1.75" stroke="#111" stroke-width="1.15" fill="none"/>
<circle cx="114.15" cy="273.64" r="1.75" stroke="#111" stroke-width="1.15" fill="none"/>
<circle cx="104.50" cy="283.32" r="1.75" stroke="#111" stroke-width="1.15" fill="none"/>
<circle cx="110.90" cy="283.32" r="1.75" stroke="#111" stroke-width="1.15" fill="none"/>
<circle cx="110.85" cy="293.00" r="1.75" stroke="#111" stroke-width="1.15" fill="none"/>
<circle cx="114.15" cy="293.00" r="1.75" stroke="#111" stroke-width="1.15" fill="none"/>
<circle cx="110.90" cy="302.68" r="1.75" stroke="#111" stroke-width="1.15" fill="none"/>
<circle cx="110.90" cy="312.36" r="1.75" stroke="#111" stroke-width="1.15" fill="none"/>
<circle cx="104.60" cy="322.04" r="1.75" stroke="#111" stroke-width="1.15" fill="none"/>
<circle cx="106.48" cy="322.04" r="1.75" stroke="#111" stroke-width="1.15" fill="none"/>
<circle cx="108.36" cy="322.04" r="1.75" stroke="#111" stroke-width="1.15" fill="none"/>
<circle cx="110.24" cy="322.04" r="1.75" stroke="#111" stroke-width="1.15" fill="none"/>
<circle cx="112.12" cy="322.04" r="1.75" stroke="#111" stroke-width="1.15" fill="none"/>
<circle cx="114.00" cy="322.04" r="1.75" stroke="#111" stroke-width="1.15" fill="none"/>
<circle cx="108.10" cy="341.40" r="1.75" stroke="#111" stroke-width="1.15" fill="none"/>
<circle cx="109.28" cy="341.40" r="1.75" stroke="#111" stroke-width="1.15" fill="none"/>
<circle cx="110.46" cy="341.40" r="1.75" stroke="#111" stroke-width="1.15" fill="none"/>
<circle cx="111.64" cy="341.40" r="1.75" stroke="#111" stroke-width="1.15" fill="none"/>
<circle cx="112.82" cy="341.40" r="1.75" stroke="#111" stroke-width="1.15" fill="none"/>
<circle cx="114.00" cy="341.40" r="1.75" stroke="#111" stroke-width="1.15" fill="none"/>
<line x1="104.2" y1="298.5" x2="117" y2="298.5" stroke="#0a0a0a" stroke-width="1.25"/>
<line x1="150.3" y1="227.2" x2="150.3" y2="347.0" stroke="#0a0a0a" stroke-width="1.55"/>
<line x1="146.5" y1="343.6" x2="150.3" y2="343.6" stroke="#0a0a0a" stroke-width="1.3"/>
<text transform="translate(144.3,346.20000000000005) scale(0.97,1)" x="0" y="0" font-size="8.4" font-weight="bold" text-anchor="end" fill="#111" stroke="#111" stroke-width="0.22">0</text>
<line x1="146.5" y1="324.20000000000005" x2="150.3" y2="324.20000000000005" stroke="#0a0a0a" stroke-width="1.3"/>
<text transform="translate(144.3,326.80000000000007) scale(0.97,1)" x="0" y="0" font-size="8.4" font-weight="bold" text-anchor="end" fill="#111" stroke="#111" stroke-width="0.22">2</text>
<line x1="146.5" y1="304.8" x2="150.3" y2="304.8" stroke="#0a0a0a" stroke-width="1.3"/>
<text transform="translate(144.3,307.40000000000003) scale(0.97,1)" x="0" y="0" font-size="8.4" font-weight="bold" text-anchor="end" fill="#111" stroke="#111" stroke-width="0.22">4</text>
<line x1="146.5" y1="285.40000000000003" x2="150.3" y2="285.40000000000003" stroke="#0a0a0a" stroke-width="1.3"/>
<text transform="translate(144.3,288.00000000000006) scale(0.97,1)" x="0" y="0" font-size="8.4" font-weight="bold" text-anchor="end" fill="#111" stroke="#111" stroke-width="0.22">6</text>
<line x1="146.5" y1="266.0" x2="150.3" y2="266.0" stroke="#0a0a0a" stroke-width="1.3"/>
<text transform="translate(144.3,268.6) scale(0.97,1)" x="0" y="0" font-size="8.4" font-weight="bold" text-anchor="end" fill="#111" stroke="#111" stroke-width="0.22">8</text>
<line x1="146.5" y1="246.60000000000002" x2="150.3" y2="246.60000000000002" stroke="#0a0a0a" stroke-width="1.3"/>
<text transform="translate(144.3,249.20000000000002) scale(0.97,1)" x="0" y="0" font-size="8.4" font-weight="bold" text-anchor="end" fill="#111" stroke="#111" stroke-width="0.22">10</text>
<line x1="146.5" y1="227.20000000000005" x2="150.3" y2="227.20000000000005" stroke="#0a0a0a" stroke-width="1.3"/>
<text transform="translate(144.3,229.80000000000004) scale(0.97,1)" x="0" y="0" font-size="8.4" font-weight="bold" text-anchor="end" fill="#111" stroke="#111" stroke-width="0.22">12</text>
<line x1="148.3" y1="333.90000000000003" x2="150.3" y2="333.90000000000003" stroke="#0a0a0a" stroke-width="1.1"/>
<line x1="148.3" y1="314.5" x2="150.3" y2="314.5" stroke="#0a0a0a" stroke-width="1.1"/>
<line x1="148.3" y1="295.1" x2="150.3" y2="295.1" stroke="#0a0a0a" stroke-width="1.1"/>
<line x1="148.3" y1="275.70000000000005" x2="150.3" y2="275.70000000000005" stroke="#0a0a0a" stroke-width="1.1"/>
<line x1="148.3" y1="256.3" x2="150.3" y2="256.3" stroke="#0a0a0a" stroke-width="1.1"/>
<line x1="148.3" y1="236.90000000000003" x2="150.3" y2="236.90000000000003" stroke="#0a0a0a" stroke-width="1.1"/>
<line x1="149.70000000000002" y1="346.4" x2="229.8" y2="346.4" stroke="#0a0a0a" stroke-width="1.55"/>
<line x1="160" y1="346.4" x2="160" y2="349.2" stroke="#0a0a0a" stroke-width="1.3"/>
<line x1="180" y1="346.4" x2="180" y2="349.2" stroke="#0a0a0a" stroke-width="1.3"/>
<line x1="200" y1="346.4" x2="200" y2="349.2" stroke="#0a0a0a" stroke-width="1.3"/>
<line x1="219.6" y1="346.4" x2="219.6" y2="349.2" stroke="#0a0a0a" stroke-width="1.3"/>
<text x="179.8" y="215.6" font-size="9.4" font-weight="bold" text-anchor="start" fill="#111" textLength="13.9" lengthAdjust="spacingAndGlyphs" stroke="#111" stroke-width="0.22">ear</text>
<text transform="translate(132.3,285.65) rotate(-90)" x="0" y="0" font-size="8.0" font-weight="bold" text-anchor="middle" fill="#111" textLength="66.2" lengthAdjust="spacingAndGlyphs" stroke="#111" stroke-width="0.22">Pathology score</text>
<text transform="translate(162.3,351.7) rotate(-90)" x="0" y="0" font-size="8.3" font-weight="bold" text-anchor="end" fill="#111" textLength="52" lengthAdjust="spacingAndGlyphs" stroke="#111" stroke-width="0.22">Tg- BM alone</text>
<text transform="translate(182.3,351.7) rotate(-90)" x="0" y="0" font-size="8.3" font-weight="bold" text-anchor="end" fill="#111" textLength="49" lengthAdjust="spacingAndGlyphs" stroke="#111" stroke-width="0.22">Tg- BM/CD8</text>
<text transform="translate(202.3,351.7) rotate(-90)" x="0" y="0" font-size="8.3" font-weight="bold" text-anchor="end" fill="#111" textLength="52" lengthAdjust="spacingAndGlyphs" stroke="#111" stroke-width="0.22">Tg+BM alone</text>
<text transform="translate(221.9,351.7) rotate(-90)" x="0" y="0" font-size="8.3" font-weight="bold" text-anchor="end" fill="#111" textLength="50.5" lengthAdjust="spacingAndGlyphs" stroke="#111" stroke-width="0.22">Tg+ BM/CD8</text>
<path d="M157.7 406.20000000000005 Q157.7 408.6 159.89999999999998 408.6 H175.5 Q177.7 408.6 177.7 406.20000000000005" stroke="#333" stroke-width="0.9" fill="none"/>
<text x="167.7" y="417.1" font-size="8.4" font-weight="normal" text-anchor="middle" fill="#1e1e1e" textLength="21.9" lengthAdjust="spacingAndGlyphs" stroke="#1e1e1e" stroke-width="0.12">0.169</text>
<path d="M198.9 406.20000000000005 Q198.9 408.6 201.1 408.6 H216.3 Q218.5 408.6 218.5 406.20000000000005" stroke="#333" stroke-width="0.9" fill="none"/>
<text x="208.85" y="417.1" font-size="8.4" font-weight="normal" text-anchor="middle" fill="#1e1e1e" textLength="21.0" lengthAdjust="spacingAndGlyphs" stroke="#1e1e1e" stroke-width="0.12">0.029</text>
<path d="M177.7 418.0 Q177.7 421.3 179.89999999999998 421.3 H214.70000000000002 Q216.9 421.3 216.9 418.0" stroke="#333" stroke-width="0.9" fill="none"/>
<text x="196.95" y="429.3" font-size="8.4" font-weight="normal" text-anchor="middle" fill="#1e1e1e" textLength="21.8" lengthAdjust="spacingAndGlyphs" stroke="#1e1e1e" stroke-width="0.12">0.369</text>
<circle cx="160.00" cy="314.50" r="1.75" stroke="#111" stroke-width="1.15" fill="none"/>
<circle cx="155.10" cy="343.60" r="1.75" stroke="#111" stroke-width="1.15" fill="none"/>
<circle cx="156.13" cy="343.60" r="1.75" stroke="#111" stroke-width="1.15" fill="none"/>
<circle cx="157.17" cy="343.60" r="1.75" stroke="#111" stroke-width="1.15" fill="none"/>
<circle cx="158.20" cy="343.60" r="1.75" stroke="#111" stroke-width="1.15" fill="none"/>
<circle cx="159.23" cy="343.60" r="1.75" stroke="#111" stroke-width="1.15" fill="none"/>
<circle cx="160.27" cy="343.60" r="1.75" stroke="#111" stroke-width="1.15" fill="none"/>
<circle cx="161.30" cy="343.60" r="1.75" stroke="#111" stroke-width="1.15" fill="none"/>
<circle cx="162.33" cy="343.60" r="1.75" stroke="#111" stroke-width="1.15" fill="none"/>
<circle cx="163.37" cy="343.60" r="1.75" stroke="#111" stroke-width="1.15" fill="none"/>
<circle cx="164.40" cy="343.60" r="1.75" stroke="#111" stroke-width="1.15" fill="none"/>
<line x1="153.5" y1="341.5" x2="166" y2="341.5" stroke="#0a0a0a" stroke-width="1.25"/>
<circle cx="180.00" cy="246.60" r="1.75" stroke="#111" stroke-width="1.15" fill="none"/>
<circle cx="174.10" cy="275.70" r="1.75" stroke="#111" stroke-width="1.15" fill="none"/>
<circle cx="180.00" cy="275.70" r="1.75" stroke="#111" stroke-width="1.15" fill="none"/>
<circle cx="180.00" cy="285.40" r="1.75" stroke="#111" stroke-width="1.15" fill="none"/>
<circle cx="180.00" cy="295.10" r="1.75" stroke="#111" stroke-width="1.15" fill="none"/>
<circle cx="180.00" cy="304.80" r="1.75" stroke="#111" stroke-width="1.15" fill="none"/>
<circle cx="175.00" cy="324.20" r="1.75" stroke="#111" stroke-width="1.15" fill="none"/>
<circle cx="178.20" cy="324.20" r="1.75" stroke="#111" stroke-width="1.15" fill="none"/>
<circle cx="181.40" cy="324.20" r="1.75" stroke="#111" stroke-width="1.15" fill="none"/>
<line x1="176.9" y1="325.5" x2="185.6" y2="325.5" stroke="#0a0a0a" stroke-width="1.25"/>
<circle cx="177.20" cy="343.60" r="1.75" stroke="#111" stroke-width="1.15" fill="none"/>
<circle cx="178.05" cy="343.60" r="1.75" stroke="#111" stroke-width="1.15" fill="none"/>
<circle cx="178.90" cy="343.60" r="1.75" stroke="#111" stroke-width="1.15" fill="none"/>
<circle cx="179.75" cy="343.60" r="1.75" stroke="#111" stroke-width="1.15" fill="none"/>
<circle cx="180.60" cy="343.60" r="1.75" stroke="#111" stroke-width="1.15" fill="none"/>
<circle cx="181.45" cy="343.60" r="1.75" stroke="#111" stroke-width="1.15" fill="none"/>
<circle cx="182.30" cy="343.60" r="1.75" stroke="#111" stroke-width="1.15" fill="none"/>
<circle cx="183.15" cy="343.60" r="1.75" stroke="#111" stroke-width="1.15" fill="none"/>
<circle cx="200.00" cy="314.50" r="1.75" stroke="#111" stroke-width="1.15" fill="none"/>
<circle cx="195.10" cy="343.60" r="1.75" stroke="#111" stroke-width="1.15" fill="none"/>
<circle cx="196.16" cy="343.60" r="1.75" stroke="#111" stroke-width="1.15" fill="none"/>
<circle cx="197.22" cy="343.60" r="1.75" stroke="#111" stroke-width="1.15" fill="none"/>
<circle cx="198.28" cy="343.60" r="1.75" stroke="#111" stroke-width="1.15" fill="none"/>
<circle cx="199.34" cy="343.60" r="1.75" stroke="#111" stroke-width="1.15" fill="none"/>
<circle cx="200.41" cy="343.60" r="1.75" stroke="#111" stroke-width="1.15" fill="none"/>
<circle cx="201.47" cy="343.60" r="1.75" stroke="#111" stroke-width="1.15" fill="none"/>
<circle cx="202.53" cy="343.60" r="1.75" stroke="#111" stroke-width="1.15" fill="none"/>
<circle cx="203.59" cy="343.60" r="1.75" stroke="#111" stroke-width="1.15" fill="none"/>
<circle cx="204.65" cy="343.60" r="1.75" stroke="#111" stroke-width="1.15" fill="none"/>
<line x1="193.5" y1="341.5" x2="206.25" y2="341.5" stroke="#0a0a0a" stroke-width="1.25"/>
<circle cx="219.60" cy="246.60" r="1.75" stroke="#111" stroke-width="1.15" fill="none"/>
<circle cx="219.60" cy="256.30" r="1.75" stroke="#111" stroke-width="1.15" fill="none"/>
<circle cx="223.00" cy="256.30" r="1.75" stroke="#111" stroke-width="1.15" fill="none"/>
<circle cx="213.80" cy="266.00" r="1.75" stroke="#111" stroke-width="1.15" fill="none"/>
<circle cx="219.60" cy="266.00" r="1.75" stroke="#111" stroke-width="1.15" fill="none"/>
<circle cx="219.60" cy="275.70" r="1.75" stroke="#111" stroke-width="1.15" fill="none"/>
<circle cx="219.60" cy="285.40" r="1.75" stroke="#111" stroke-width="1.15" fill="none"/>
<circle cx="219.60" cy="295.10" r="1.75" stroke="#111" stroke-width="1.15" fill="none"/>
<circle cx="219.60" cy="304.80" r="1.75" stroke="#111" stroke-width="1.15" fill="none"/>
<circle cx="219.60" cy="314.50" r="1.75" stroke="#111" stroke-width="1.15" fill="none"/>
<circle cx="222.80" cy="314.50" r="1.75" stroke="#111" stroke-width="1.15" fill="none"/>
<circle cx="219.60" cy="324.20" r="1.75" stroke="#111" stroke-width="1.15" fill="none"/>
<line x1="213.1" y1="315.5" x2="225.6" y2="315.5" stroke="#0a0a0a" stroke-width="1.25"/>
<circle cx="216.35" cy="343.60" r="1.75" stroke="#111" stroke-width="1.15" fill="none"/>
<circle cx="217.32" cy="343.60" r="1.75" stroke="#111" stroke-width="1.15" fill="none"/>
<circle cx="218.29" cy="343.60" r="1.75" stroke="#111" stroke-width="1.15" fill="none"/>
<circle cx="219.26" cy="343.60" r="1.75" stroke="#111" stroke-width="1.15" fill="none"/>
<circle cx="220.24" cy="343.60" r="1.75" stroke="#111" stroke-width="1.15" fill="none"/>
<circle cx="221.21" cy="343.60" r="1.75" stroke="#111" stroke-width="1.15" fill="none"/>
<circle cx="222.18" cy="343.60" r="1.75" stroke="#111" stroke-width="1.15" fill="none"/>
<circle cx="223.15" cy="343.60" r="1.75" stroke="#111" stroke-width="1.15" fill="none"/>
<line x1="256.2" y1="226.9" x2="256.2" y2="347.0" stroke="#0a0a0a" stroke-width="1.55"/>
<line x1="252.39999999999998" y1="346.9" x2="256.2" y2="346.9" stroke="#0a0a0a" stroke-width="1.3"/>
<text transform="translate(249.7,349.5) scale(0.97,1)" x="0" y="0" font-size="8.4" font-weight="bold" text-anchor="end" fill="#111" stroke="#111" stroke-width="0.22">0</text>
<line x1="252.39999999999998" y1="322.9" x2="256.2" y2="322.9" stroke="#0a0a0a" stroke-width="1.3"/>
<text transform="translate(249.7,325.5) scale(0.97,1)" x="0" y="0" font-size="8.4" font-weight="bold" text-anchor="end" fill="#111" stroke="#111" stroke-width="0.22">2</text>
<line x1="252.39999999999998" y1="298.9" x2="256.2" y2="298.9" stroke="#0a0a0a" stroke-width="1.3"/>
<text transform="translate(249.7,301.5) scale(0.97,1)" x="0" y="0" font-size="8.4" font-weight="bold" text-anchor="end" fill="#111" stroke="#111" stroke-width="0.22">4</text>
<line x1="252.39999999999998" y1="274.9" x2="256.2" y2="274.9" stroke="#0a0a0a" stroke-width="1.3"/>
<text transform="translate(249.7,277.5) scale(0.97,1)" x="0" y="0" font-size="8.4" font-weight="bold" text-anchor="end" fill="#111" stroke="#111" stroke-width="0.22">6</text>
<line x1="252.39999999999998" y1="250.89999999999998" x2="256.2" y2="250.89999999999998" stroke="#0a0a0a" stroke-width="1.3"/>
<text transform="translate(249.7,253.49999999999997) scale(0.97,1)" x="0" y="0" font-size="8.4" font-weight="bold" text-anchor="end" fill="#111" stroke="#111" stroke-width="0.22">8</text>
<line x1="252.39999999999998" y1="226.89999999999998" x2="256.2" y2="226.89999999999998" stroke="#0a0a0a" stroke-width="1.3"/>
<text transform="translate(249.7,229.49999999999997) scale(0.97,1)" x="0" y="0" font-size="8.4" font-weight="bold" text-anchor="end" fill="#111" stroke="#111" stroke-width="0.22">10</text>
<line x1="255.6" y1="346.4" x2="336" y2="346.4" stroke="#0a0a0a" stroke-width="1.55"/>
<line x1="266" y1="346.4" x2="266" y2="349.2" stroke="#0a0a0a" stroke-width="1.3"/>
<line x1="285.8" y1="346.4" x2="285.8" y2="349.2" stroke="#0a0a0a" stroke-width="1.3"/>
<line x1="305.8" y1="346.4" x2="305.8" y2="349.2" stroke="#0a0a0a" stroke-width="1.3"/>
<line x1="325.9" y1="346.4" x2="325.9" y2="349.2" stroke="#0a0a0a" stroke-width="1.3"/>
<text x="281.8" y="215.2" font-size="9.4" font-weight="bold" text-anchor="start" fill="#111" textLength="19.1" lengthAdjust="spacingAndGlyphs" stroke="#111" stroke-width="0.22">liver</text>
<text transform="translate(239.2,285.8) rotate(-90)" x="0" y="0" font-size="8.0" font-weight="bold" text-anchor="middle" fill="#111" textLength="61.5" lengthAdjust="spacingAndGlyphs" stroke="#111" stroke-width="0.22">Pathology score</text>
<text transform="translate(268.3,351.7) rotate(-90)" x="0" y="0" font-size="8.3" font-weight="bold" text-anchor="end" fill="#111" textLength="52" lengthAdjust="spacingAndGlyphs" stroke="#111" stroke-width="0.22">Tg- BM alone</text>
<text transform="translate(288.1,351.7) rotate(-90)" x="0" y="0" font-size="8.3" font-weight="bold" text-anchor="end" fill="#111" textLength="49" lengthAdjust="spacingAndGlyphs" stroke="#111" stroke-width="0.22">Tg- BM/CD8</text>
<text transform="translate(308.1,351.7) rotate(-90)" x="0" y="0" font-size="8.3" font-weight="bold" text-anchor="end" fill="#111" textLength="52" lengthAdjust="spacingAndGlyphs" stroke="#111" stroke-width="0.22">Tg+BM alone</text>
<text transform="translate(328.2,351.7) rotate(-90)" x="0" y="0" font-size="8.3" font-weight="bold" text-anchor="end" fill="#111" textLength="50.5" lengthAdjust="spacingAndGlyphs" stroke="#111" stroke-width="0.22">Tg+ BM/CD8</text>
<path d="M265 406.40000000000003 Q265 408.8 267.2 408.8 H282.0 Q284.2 408.8 284.2 406.40000000000003" stroke="#333" stroke-width="0.9" fill="none"/>
<text x="274.6" y="417.1" font-size="8.4" font-weight="normal" text-anchor="middle" fill="#1e1e1e" textLength="25.7" lengthAdjust="spacingAndGlyphs" stroke="#1e1e1e" stroke-width="0.12">&lt;0.001</text>
<path d="M305.7 406.40000000000003 Q305.7 408.8 307.9 408.8 H323.1 Q325.3 408.8 325.3 406.40000000000003" stroke="#333" stroke-width="0.9" fill="none"/>
<text x="316.0" y="417.1" font-size="8.4" font-weight="normal" text-anchor="middle" fill="#1e1e1e" textLength="24.5" lengthAdjust="spacingAndGlyphs" stroke="#1e1e1e" stroke-width="0.12">&lt;0.001</text>
<path d="M284.2 417.8 Q284.2 421.1 286.4 421.1 H320.5 Q322.7 421.1 322.7 417.8" stroke="#333" stroke-width="0.9" fill="none"/>
<text x="303.45" y="429.3" font-size="8.4" font-weight="normal" text-anchor="middle" fill="#1e1e1e" textLength="21.8" lengthAdjust="spacingAndGlyphs" stroke="#1e1e1e" stroke-width="0.12">0.540</text>
<circle cx="259.90" cy="328.70" r="1.75" stroke="#111" stroke-width="1.15" fill="none"/>
<circle cx="262.60" cy="328.70" r="1.75" stroke="#111" stroke-width="1.15" fill="none"/>
<circle cx="265.30" cy="328.70" r="1.75" stroke="#111" stroke-width="1.15" fill="none"/>
<circle cx="268.00" cy="328.70" r="1.75" stroke="#111" stroke-width="1.15" fill="none"/>
<circle cx="270.70" cy="328.70" r="1.75" stroke="#111" stroke-width="1.15" fill="none"/>
<circle cx="263.50" cy="331.00" r="1.75" stroke="#111" stroke-width="1.15" fill="none"/>
<circle cx="267.00" cy="331.00" r="1.75" stroke="#111" stroke-width="1.15" fill="none"/>
<circle cx="266.00" cy="336.80" r="1.75" stroke="#111" stroke-width="1.15" fill="none"/>
<line x1="258.5" y1="328.5" x2="272.5" y2="328.5" stroke="#0a0a0a" stroke-width="1.25"/>
<circle cx="285.80" cy="241.50" r="1.75" stroke="#111" stroke-width="1.15" fill="none"/>
<circle cx="289.10" cy="264.90" r="1.75" stroke="#111" stroke-width="1.15" fill="none"/>
<circle cx="286.00" cy="269.00" r="1.75" stroke="#111" stroke-width="1.15" fill="none"/>
<circle cx="282.80" cy="276.80" r="1.75" stroke="#111" stroke-width="1.15" fill="none"/>
<circle cx="289.10" cy="276.80" r="1.75" stroke="#111" stroke-width="1.15" fill="none"/>
<circle cx="279.90" cy="281.10" r="1.75" stroke="#111" stroke-width="1.15" fill="none"/>
<circle cx="286.00" cy="281.10" r="1.75" stroke="#111" stroke-width="1.15" fill="none"/>
<circle cx="283.00" cy="294.70" r="1.75" stroke="#111" stroke-width="1.15" fill="none"/>
<circle cx="286.20" cy="294.70" r="1.75" stroke="#111" stroke-width="1.15" fill="none"/>
<circle cx="289.40" cy="294.70" r="1.75" stroke="#111" stroke-width="1.15" fill="none"/>
<circle cx="283.50" cy="305.10" r="1.75" stroke="#111" stroke-width="1.15" fill="none"/>
<circle cx="285.50" cy="304.30" r="1.75" stroke="#111" stroke-width="1.15" fill="none"/>
<circle cx="287.50" cy="305.10" r="1.75" stroke="#111" stroke-width="1.15" fill="none"/>
<circle cx="279.90" cy="311.00" r="1.75" stroke="#111" stroke-width="1.15" fill="none"/>
<circle cx="285.90" cy="311.00" r="1.75" stroke="#111" stroke-width="1.15" fill="none"/>
<circle cx="289.30" cy="311.00" r="1.75" stroke="#111" stroke-width="1.15" fill="none"/>
<circle cx="284.50" cy="317.40" r="1.75" stroke="#111" stroke-width="1.15" fill="none"/>
<circle cx="286.50" cy="316.40" r="1.75" stroke="#111" stroke-width="1.15" fill="none"/>
<circle cx="285.50" cy="318.20" r="1.75" stroke="#111" stroke-width="1.15" fill="none"/>
<circle cx="282.80" cy="322.60" r="1.75" stroke="#111" stroke-width="1.15" fill="none"/>
<circle cx="286.00" cy="322.60" r="1.75" stroke="#111" stroke-width="1.15" fill="none"/>
<circle cx="289.10" cy="322.60" r="1.75" stroke="#111" stroke-width="1.15" fill="none"/>
<line x1="278.7" y1="298.5" x2="292" y2="298.5" stroke="#0a0a0a" stroke-width="1.25"/>
<circle cx="305.80" cy="324.90" r="1.75" stroke="#111" stroke-width="1.15" fill="none"/>
<circle cx="305.80" cy="340.70" r="1.75" stroke="#111" stroke-width="1.15" fill="none"/>
<circle cx="303.60" cy="337.20" r="1.75" stroke="#111" stroke-width="1.15" fill="none"/>
<circle cx="304.75" cy="337.20" r="1.75" stroke="#111" stroke-width="1.15" fill="none"/>
<circle cx="305.90" cy="337.20" r="1.75" stroke="#111" stroke-width="1.15" fill="none"/>
<circle cx="307.05" cy="337.20" r="1.75" stroke="#111" stroke-width="1.15" fill="none"/>
<circle cx="308.20" cy="337.20" r="1.75" stroke="#111" stroke-width="1.15" fill="none"/>
<line x1="299.5" y1="336.5" x2="310.8" y2="336.5" stroke="#0a0a0a" stroke-width="1.25"/>
<circle cx="319.70" cy="239.40" r="1.75" stroke="#111" stroke-width="1.15" fill="none"/>
<circle cx="325.80" cy="245.30" r="1.75" stroke="#111" stroke-width="1.15" fill="none"/>
<circle cx="325.80" cy="269.20" r="1.75" stroke="#111" stroke-width="1.15" fill="none"/>
<circle cx="319.80" cy="286.80" r="1.75" stroke="#111" stroke-width="1.15" fill="none"/>
<circle cx="325.90" cy="288.80" r="1.75" stroke="#111" stroke-width="1.15" fill="none"/>
<circle cx="323.60" cy="294.80" r="1.75" stroke="#111" stroke-width="1.15" fill="none"/>
<circle cx="326.60" cy="294.80" r="1.75" stroke="#111" stroke-width="1.15" fill="none"/>
<circle cx="322.90" cy="300.10" r="1.75" stroke="#111" stroke-width="1.15" fill="none"/>
<circle cx="328.90" cy="300.10" r="1.75" stroke="#111" stroke-width="1.15" fill="none"/>
<circle cx="319.10" cy="306.80" r="1.75" stroke="#111" stroke-width="1.15" fill="none"/>
<circle cx="322.90" cy="304.60" r="1.75" stroke="#111" stroke-width="1.15" fill="none"/>
<circle cx="328.90" cy="304.60" r="1.75" stroke="#111" stroke-width="1.15" fill="none"/>
<circle cx="325.90" cy="311.40" r="1.75" stroke="#111" stroke-width="1.15" fill="none"/>
<circle cx="322.90" cy="313.60" r="1.75" stroke="#111" stroke-width="1.15" fill="none"/>
<circle cx="328.90" cy="313.60" r="1.75" stroke="#111" stroke-width="1.15" fill="none"/>
<circle cx="322.10" cy="316.60" r="1.75" stroke="#111" stroke-width="1.15" fill="none"/>
<circle cx="325.90" cy="316.60" r="1.75" stroke="#111" stroke-width="1.15" fill="none"/>
<circle cx="329.30" cy="316.60" r="1.75" stroke="#111" stroke-width="1.15" fill="none"/>
<circle cx="325.90" cy="318.40" r="1.75" stroke="#111" stroke-width="1.15" fill="none"/>
<circle cx="319.80" cy="324.90" r="1.75" stroke="#111" stroke-width="1.15" fill="none"/>
<circle cx="328.90" cy="324.90" r="1.75" stroke="#111" stroke-width="1.15" fill="none"/>
<circle cx="325.90" cy="328.70" r="1.75" stroke="#111" stroke-width="1.15" fill="none"/>
<circle cx="328.90" cy="330.20" r="1.75" stroke="#111" stroke-width="1.15" fill="none"/>
<circle cx="325.90" cy="337.00" r="1.75" stroke="#111" stroke-width="1.15" fill="none"/>
<line x1="318.3" y1="302.5" x2="331.9" y2="302.5" stroke="#0a0a0a" stroke-width="1.25"/>
<line x1="364.3" y1="226.9" x2="364.3" y2="347.0" stroke="#0a0a0a" stroke-width="1.55"/>
<line x1="360.5" y1="345.4" x2="364.3" y2="345.4" stroke="#0a0a0a" stroke-width="1.3"/>
<text transform="translate(357.8,348.0) scale(0.97,1)" x="0" y="0" font-size="8.4" font-weight="bold" text-anchor="end" fill="#111" stroke="#111" stroke-width="0.22">0</text>
<line x1="360.5" y1="321.7" x2="364.3" y2="321.7" stroke="#0a0a0a" stroke-width="1.3"/>
<text transform="translate(357.8,324.3) scale(0.97,1)" x="0" y="0" font-size="8.4" font-weight="bold" text-anchor="end" fill="#111" stroke="#111" stroke-width="0.22">5</text>
<line x1="360.5" y1="298.0" x2="364.3" y2="298.0" stroke="#0a0a0a" stroke-width="1.3"/>
<text transform="translate(357.8,300.6) scale(0.97,1)" x="0" y="0" font-size="8.4" font-weight="bold" text-anchor="end" fill="#111" stroke="#111" stroke-width="0.22">10</text>
<line x1="360.5" y1="274.29999999999995" x2="364.3" y2="274.29999999999995" stroke="#0a0a0a" stroke-width="1.3"/>
<text transform="translate(357.8,276.9) scale(0.97,1)" x="0" y="0" font-size="8.4" font-weight="bold" text-anchor="end" fill="#111" stroke="#111" stroke-width="0.22">15</text>
<line x1="360.5" y1="250.59999999999997" x2="364.3" y2="250.59999999999997" stroke="#0a0a0a" stroke-width="1.3"/>
<text transform="translate(357.8,253.19999999999996) scale(0.97,1)" x="0" y="0" font-size="8.4" font-weight="bold" text-anchor="end" fill="#111" stroke="#111" stroke-width="0.22">20</text>
<line x1="360.5" y1="226.89999999999998" x2="364.3" y2="226.89999999999998" stroke="#0a0a0a" stroke-width="1.3"/>
<text transform="translate(357.8,229.49999999999997) scale(0.97,1)" x="0" y="0" font-size="8.4" font-weight="bold" text-anchor="end" fill="#111" stroke="#111" stroke-width="0.22">25</text>
<line x1="362.3" y1="333.54999999999995" x2="364.3" y2="333.54999999999995" stroke="#0a0a0a" stroke-width="1.1"/>
<line x1="362.3" y1="309.84999999999997" x2="364.3" y2="309.84999999999997" stroke="#0a0a0a" stroke-width="1.1"/>
<line x1="362.3" y1="286.15" x2="364.3" y2="286.15" stroke="#0a0a0a" stroke-width="1.1"/>
<line x1="362.3" y1="262.45" x2="364.3" y2="262.45" stroke="#0a0a0a" stroke-width="1.1"/>
<line x1="362.3" y1="238.74999999999997" x2="364.3" y2="238.74999999999997" stroke="#0a0a0a" stroke-width="1.1"/>
<line x1="363.7" y1="346.4" x2="443.75" y2="346.4" stroke="#0a0a0a" stroke-width="1.55"/>
<line x1="374.1" y1="346.4" x2="374.1" y2="349.2" stroke="#0a0a0a" stroke-width="1.3"/>
<line x1="393.6" y1="346.4" x2="393.6" y2="349.2" stroke="#0a0a0a" stroke-width="1.3"/>
<line x1="413.5" y1="346.4" x2="413.5" y2="349.2" stroke="#0a0a0a" stroke-width="1.3"/>
<line x1="433.8" y1="346.4" x2="433.8" y2="349.2" stroke="#0a0a0a" stroke-width="1.3"/>
<text x="388.3" y="215.6" font-size="9.4" font-weight="bold" text-anchor="start" fill="#111" textLength="24.6" lengthAdjust="spacingAndGlyphs" stroke="#111" stroke-width="0.22">colon</text>
<text transform="translate(347.2,286.65) rotate(-90)" x="0" y="0" font-size="8.0" font-weight="bold" text-anchor="middle" fill="#111" textLength="66" lengthAdjust="spacingAndGlyphs" stroke="#111" stroke-width="0.22">Pathology score</text>
<text transform="translate(376.40000000000003,351.7) rotate(-90)" x="0" y="0" font-size="8.3" font-weight="bold" text-anchor="end" fill="#111" textLength="52" lengthAdjust="spacingAndGlyphs" stroke="#111" stroke-width="0.22">Tg- BM alone</text>
<text transform="translate(395.90000000000003,351.7) rotate(-90)" x="0" y="0" font-size="8.3" font-weight="bold" text-anchor="end" fill="#111" textLength="49" lengthAdjust="spacingAndGlyphs" stroke="#111" stroke-width="0.22">Tg- BM/CD8</text>
<text transform="translate(415.8,351.7) rotate(-90)" x="0" y="0" font-size="8.3" font-weight="bold" text-anchor="end" fill="#111" textLength="52" lengthAdjust="spacingAndGlyphs" stroke="#111" stroke-width="0.22">Tg+BM alone</text>
<text transform="translate(436.1,351.7) rotate(-90)" x="0" y="0" font-size="8.3" font-weight="bold" text-anchor="end" fill="#111" textLength="50.5" lengthAdjust="spacingAndGlyphs" stroke="#111" stroke-width="0.22">Tg+ BM/CD8</text>
<path d="M373.1 406.40000000000003 Q373.1 408.8 375.3 408.8 H390.90000000000003 Q393.1 408.8 393.1 406.40000000000003" stroke="#333" stroke-width="0.9" fill="none"/>
<text x="383.5" y="417.1" font-size="8.4" font-weight="normal" text-anchor="middle" fill="#1e1e1e" textLength="25.7" lengthAdjust="spacingAndGlyphs" stroke="#1e1e1e" stroke-width="0.12">&lt;0.001</text>
<path d="M413.8 406.40000000000003 Q413.8 408.8 416.0 408.8 H431.6 Q433.8 408.8 433.8 406.40000000000003" stroke="#333" stroke-width="0.9" fill="none"/>
<text x="424.6" y="417.1" font-size="8.4" font-weight="normal" text-anchor="middle" fill="#1e1e1e" textLength="24.9" lengthAdjust="spacingAndGlyphs" stroke="#1e1e1e" stroke-width="0.12">&lt;0.001</text>
<path d="M392.3 417.8 Q392.3 421.1 394.5 421.1 H429.3 Q431.5 421.1 431.5 417.8" stroke="#333" stroke-width="0.9" fill="none"/>
<text x="412.3" y="429.3" font-size="8.4" font-weight="normal" text-anchor="middle" fill="#1e1e1e" textLength="20.3" lengthAdjust="spacingAndGlyphs" stroke="#1e1e1e" stroke-width="0.12">0.361</text>
<circle cx="373.70" cy="319.10" r="1.75" stroke="#111" stroke-width="1.15" fill="none"/>
<circle cx="371.00" cy="343.50" r="1.75" stroke="#111" stroke-width="1.15" fill="none"/>
<circle cx="373.00" cy="342.00" r="1.75" stroke="#111" stroke-width="1.15" fill="none"/>
<circle cx="375.00" cy="343.50" r="1.75" stroke="#111" stroke-width="1.15" fill="none"/>
<circle cx="372.00" cy="345.00" r="1.75" stroke="#111" stroke-width="1.15" fill="none"/>
<circle cx="374.50" cy="345.00" r="1.75" stroke="#111" stroke-width="1.15" fill="none"/>
<circle cx="373.70" cy="341.00" r="1.75" stroke="#111" stroke-width="1.15" fill="none"/>
<circle cx="376.50" cy="344.50" r="1.75" stroke="#111" stroke-width="1.15" fill="none"/>
<circle cx="370.50" cy="345.00" r="1.75" stroke="#111" stroke-width="1.15" fill="none"/>
<circle cx="377.50" cy="343.80" r="1.75" stroke="#111" stroke-width="1.15" fill="none"/>
<line x1="367.6" y1="340.5" x2="379.6" y2="340.5" stroke="#0a0a0a" stroke-width="1.25"/>
<circle cx="393.90" cy="248.50" r="1.75" stroke="#111" stroke-width="1.15" fill="none"/>
<circle cx="393.90" cy="261.40" r="1.75" stroke="#111" stroke-width="1.15" fill="none"/>
<circle cx="396.90" cy="291.70" r="1.75" stroke="#111" stroke-width="1.15" fill="none"/>
<circle cx="394.10" cy="294.30" r="1.75" stroke="#111" stroke-width="1.15" fill="none"/>
<circle cx="390.90" cy="295.70" r="1.75" stroke="#111" stroke-width="1.15" fill="none"/>
<circle cx="396.90" cy="299.10" r="1.75" stroke="#111" stroke-width="1.15" fill="none"/>
<circle cx="387.60" cy="300.60" r="1.75" stroke="#111" stroke-width="1.15" fill="none"/>
<circle cx="394.10" cy="300.60" r="1.75" stroke="#111" stroke-width="1.15" fill="none"/>
<circle cx="392.50" cy="306.40" r="1.75" stroke="#111" stroke-width="1.15" fill="none"/>
<circle cx="390.40" cy="311.60" r="1.75" stroke="#111" stroke-width="1.15" fill="none"/>
<circle cx="393.20" cy="311.60" r="1.75" stroke="#111" stroke-width="1.15" fill="none"/>
<circle cx="395.70" cy="311.60" r="1.75" stroke="#111" stroke-width="1.15" fill="none"/>
<circle cx="397.70" cy="311.60" r="1.75" stroke="#111" stroke-width="1.15" fill="none"/>
<circle cx="387.60" cy="317.00" r="1.75" stroke="#111" stroke-width="1.15" fill="none"/>
<circle cx="394.10" cy="320.80" r="1.75" stroke="#111" stroke-width="1.15" fill="none"/>
<circle cx="394.80" cy="323.80" r="1.75" stroke="#111" stroke-width="1.15" fill="none"/>
<circle cx="392.00" cy="325.90" r="1.75" stroke="#111" stroke-width="1.15" fill="none"/>
<circle cx="390.40" cy="328.30" r="1.75" stroke="#111" stroke-width="1.15" fill="none"/>
<circle cx="394.10" cy="329.40" r="1.75" stroke="#111" stroke-width="1.15" fill="none"/>
<circle cx="396.90" cy="329.40" r="1.75" stroke="#111" stroke-width="1.15" fill="none"/>
<circle cx="388.00" cy="332.70" r="1.75" stroke="#111" stroke-width="1.15" fill="none"/>
<circle cx="394.10" cy="335.90" r="1.75" stroke="#111" stroke-width="1.15" fill="none"/>
<circle cx="396.90" cy="340.80" r="1.75" stroke="#111" stroke-width="1.15" fill="none"/>
<circle cx="394.10" cy="344.80" r="1.75" stroke="#111" stroke-width="1.15" fill="none"/>
<line x1="387.6" y1="311.5" x2="399.3" y2="311.5" stroke="#0a0a0a" stroke-width="1.25"/>
<circle cx="413.70" cy="339.40" r="1.75" stroke="#111" stroke-width="1.15" fill="none"/>
<circle cx="410.60" cy="344.00" r="1.75" stroke="#111" stroke-width="1.15" fill="none"/>
<circle cx="411.84" cy="344.00" r="1.75" stroke="#111" stroke-width="1.15" fill="none"/>
<circle cx="413.08" cy="344.00" r="1.75" stroke="#111" stroke-width="1.15" fill="none"/>
<circle cx="414.32" cy="344.00" r="1.75" stroke="#111" stroke-width="1.15" fill="none"/>
<circle cx="415.56" cy="344.00" r="1.75" stroke="#111" stroke-width="1.15" fill="none"/>
<circle cx="416.80" cy="344.00" r="1.75" stroke="#111" stroke-width="1.15" fill="none"/>
<line x1="406.9" y1="342.5" x2="419.7" y2="342.5" stroke="#0a0a0a" stroke-width="1.25"/>
<circle cx="427.80" cy="274.50" r="1.75" stroke="#111" stroke-width="1.15" fill="none"/>
<circle cx="433.80" cy="277.90" r="1.75" stroke="#111" stroke-width="1.15" fill="none"/>
<circle cx="433.80" cy="291.80" r="1.75" stroke="#111" stroke-width="1.15" fill="none"/>
<circle cx="433.80" cy="298.80" r="1.75" stroke="#111" stroke-width="1.15" fill="none"/>
<circle cx="430.70" cy="311.00" r="1.75" stroke="#111" stroke-width="1.15" fill="none"/>
<circle cx="434.10" cy="311.00" r="1.75" stroke="#111" stroke-width="1.15" fill="none"/>
<circle cx="437.30" cy="311.00" r="1.75" stroke="#111" stroke-width="1.15" fill="none"/>
<circle cx="433.80" cy="313.90" r="1.75" stroke="#111" stroke-width="1.15" fill="none"/>
<circle cx="427.50" cy="318.00" r="1.75" stroke="#111" stroke-width="1.15" fill="none"/>
<circle cx="433.80" cy="320.80" r="1.75" stroke="#111" stroke-width="1.15" fill="none"/>
<circle cx="430.50" cy="327.20" r="1.75" stroke="#111" stroke-width="1.15" fill="none"/>
<circle cx="433.00" cy="326.50" r="1.75" stroke="#111" stroke-width="1.15" fill="none"/>
<circle cx="435.50" cy="327.20" r="1.75" stroke="#111" stroke-width="1.15" fill="none"/>
<circle cx="432.00" cy="328.50" r="1.75" stroke="#111" stroke-width="1.15" fill="none"/>
<circle cx="427.50" cy="331.25" r="1.75" stroke="#111" stroke-width="1.15" fill="none"/>
<circle cx="431.00" cy="331.25" r="1.75" stroke="#111" stroke-width="1.15" fill="none"/>
<circle cx="434.20" cy="331.25" r="1.75" stroke="#111" stroke-width="1.15" fill="none"/>
<circle cx="437.30" cy="331.25" r="1.75" stroke="#111" stroke-width="1.15" fill="none"/>
<circle cx="430.70" cy="335.30" r="1.75" stroke="#111" stroke-width="1.15" fill="none"/>
<circle cx="434.10" cy="335.30" r="1.75" stroke="#111" stroke-width="1.15" fill="none"/>
<circle cx="437.30" cy="335.30" r="1.75" stroke="#111" stroke-width="1.15" fill="none"/>
<circle cx="433.80" cy="341.10" r="1.75" stroke="#111" stroke-width="1.15" fill="none"/>
<line x1="427.8" y1="318.5" x2="440" y2="318.5" stroke="#0a0a0a" stroke-width="1.25"/>
</svg>
</body></html>
